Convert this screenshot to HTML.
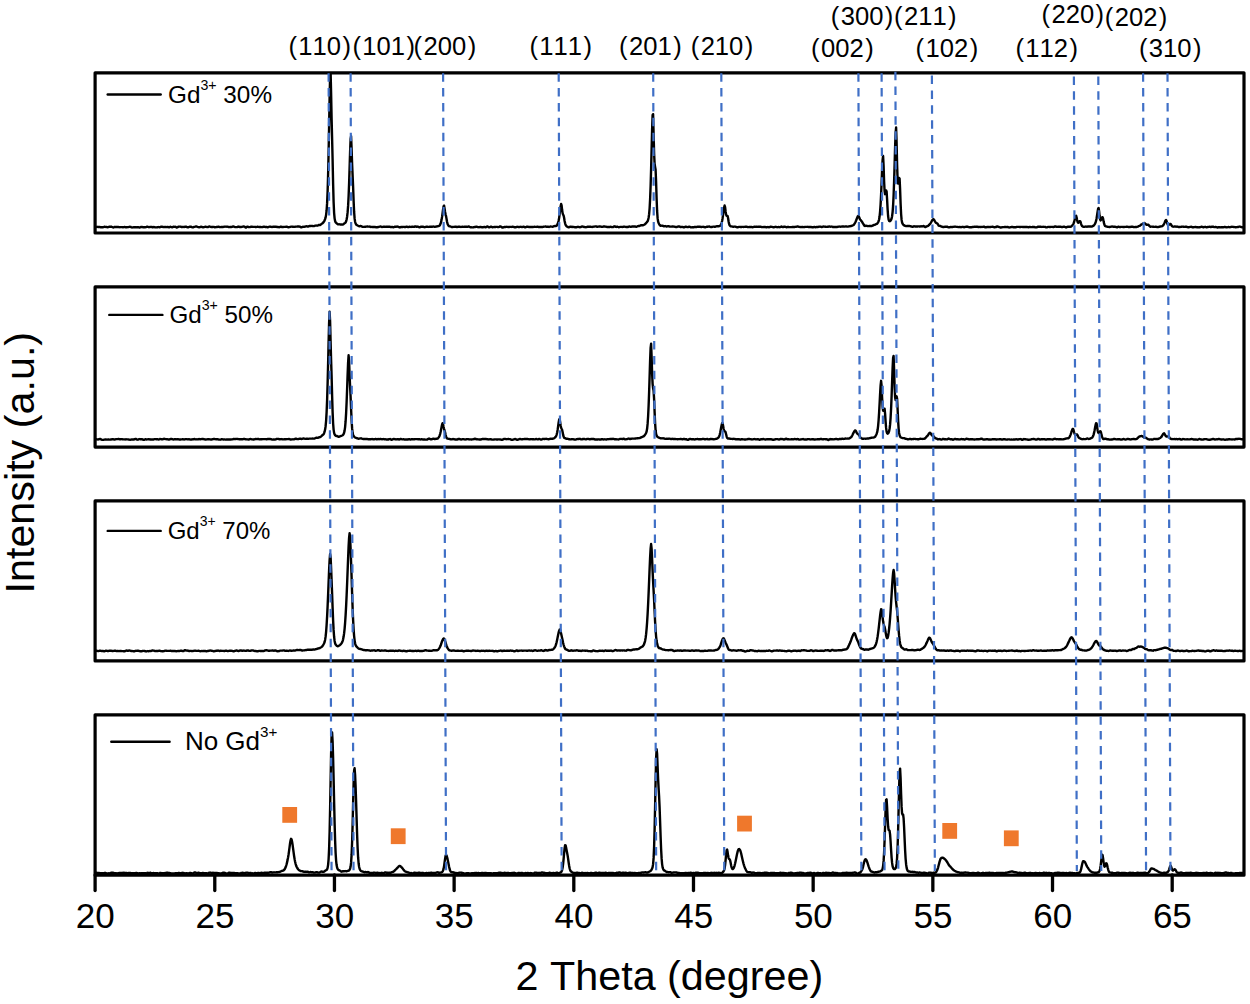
<!DOCTYPE html>
<html><head><meta charset="utf-8"><title>XRD</title>
<style>html,body{margin:0;padding:0;background:#fff;}body{width:1250px;height:1004px;overflow:hidden;font-family:"Liberation Sans",sans-serif;}svg{display:block;}</style></head>
<body>
<svg width="1250" height="1004" viewBox="0 0 1250 1004" font-family="'Liberation Sans', sans-serif" fill="#000" style="font-kerning:none">
<rect width="1250" height="1004" fill="#fff"/>
<defs>
<clipPath id="c0"><rect x="95.1" y="72.8" width="1148.9" height="160.2"/></clipPath>
<clipPath id="c1"><rect x="95.1" y="286.9" width="1148.9" height="160.2"/></clipPath>
<clipPath id="c2"><rect x="95.1" y="500.9" width="1148.9" height="160.0"/></clipPath>
<clipPath id="c3"><rect x="95.1" y="714.8" width="1148.9" height="160.4"/></clipPath>
</defs>
<path clip-path="url(#c0)" d="M95.1 226.90L95.6 227.00L96.1 227.00L96.6 226.90L97.1 226.81L97.6 226.93L98.1 227.04L98.6 227.01L99.1 226.85L99.6 226.83L100.1 227.03L100.6 227.26L101.1 227.39L101.6 227.28L102.1 227.25L102.6 227.23L103.1 227.27L103.6 227.05L104.1 226.87L104.6 226.75L105.1 226.85L105.6 226.93L106.1 226.97L106.6 227.02L107.1 227.13L107.6 227.23L108.1 227.17L108.6 227.02L109.1 226.80L109.6 226.78L110.1 226.67L110.6 226.72L111.1 226.65L111.6 226.77L112.1 226.99L112.6 227.27L113.1 227.49L113.6 227.33L114.1 227.13L114.6 226.88L115.1 226.92L115.6 227.00L116.1 227.07L116.6 227.03L117.1 226.97L117.6 226.89L118.1 226.99L118.6 227.03L119.1 227.20L119.6 227.13L120.1 227.18L120.6 227.10L121.1 227.15L121.6 227.09L122.1 227.17L122.6 227.19L123.1 227.28L123.6 227.17L124.1 227.09L124.6 227.02L125.1 227.16L125.6 227.24L126.1 227.30L126.6 227.20L127.1 227.18L127.6 227.14L128.1 227.14L128.6 227.06L129.1 226.94L129.6 226.81L130.1 226.78L130.6 226.93L131.1 227.18L131.6 227.40L132.1 227.45L132.6 227.42L133.1 227.33L133.6 227.27L134.1 227.28L134.6 227.31L135.1 227.27L135.6 227.18L136.1 227.14L136.6 227.26L137.1 227.32L137.6 227.28L138.1 227.23L138.6 227.28L139.1 227.46L139.6 227.48L140.1 227.39L140.6 227.17L141.1 227.00L141.6 226.91L142.1 226.98L142.6 227.13L143.1 227.25L143.6 227.29L144.1 227.21L144.6 227.19L145.1 227.14L145.6 227.19L146.1 227.07L146.6 226.87L147.1 226.67L147.6 226.71L148.1 226.97L148.6 227.14L149.1 227.18L149.6 227.05L150.1 227.02L150.6 226.90L151.1 226.83L151.6 226.85L152.1 227.14L152.6 227.34L153.1 227.29L153.6 227.03L154.1 227.03L154.6 227.21L155.1 227.42L155.6 227.42L156.1 227.33L156.6 227.34L157.1 227.28L157.6 227.24L158.1 227.05L158.6 227.08L159.1 227.18L159.6 227.32L160.1 227.20L160.6 226.95L161.1 226.68L161.6 226.63L162.1 226.71L162.6 226.85L163.1 226.99L163.6 227.05L164.1 227.09L164.6 227.03L165.1 227.01L165.6 227.06L166.1 227.10L166.6 227.10L167.1 226.93L167.6 226.89L168.1 226.97L168.6 227.21L169.1 227.25L169.6 227.07L170.1 226.85L170.6 226.77L171.1 226.99L171.6 227.19L172.1 227.32L172.6 227.05L173.1 226.83L173.6 226.71L174.1 226.85L174.6 226.88L175.1 226.77L175.6 226.87L176.1 227.08L176.6 227.48L177.1 227.45L177.6 227.22L178.1 226.85L178.6 226.59L179.1 226.62L179.6 226.59L180.1 226.66L180.6 226.62L181.1 226.87L181.6 227.07L182.1 227.11L182.6 226.92L183.1 226.85L183.6 226.94L184.1 226.99L184.6 226.86L185.1 226.70L185.6 226.61L186.1 226.70L186.6 226.89L187.1 227.21L187.6 227.37L188.1 227.39L188.6 227.14L189.1 226.95L189.6 226.74L190.1 226.64L190.6 226.59L191.1 226.72L191.6 227.02L192.1 227.32L192.6 227.42L193.1 227.32L193.6 227.12L194.1 226.95L194.6 226.84L195.1 226.70L195.6 226.54L196.1 226.46L196.6 226.55L197.1 226.74L197.6 226.95L198.1 227.07L198.6 227.19L199.1 227.24L199.6 227.23L200.1 227.04L200.6 226.85L201.1 226.71L201.6 226.85L202.1 227.00L202.6 227.22L203.1 227.25L203.6 227.19L204.1 227.03L204.6 226.83L205.1 226.81L205.6 226.75L206.1 226.83L206.6 226.92L207.1 227.14L207.6 227.17L208.1 227.05L208.6 226.70L209.1 226.54L209.6 226.50L210.1 226.72L210.6 226.87L211.1 226.95L211.6 227.03L212.1 227.05L212.6 227.03L213.1 226.84L213.6 226.83L214.1 226.96L214.6 227.21L215.1 227.26L215.6 227.17L216.1 227.06L216.6 227.01L217.1 226.98L217.6 226.87L218.1 226.75L218.6 226.76L219.1 226.92L219.6 227.14L220.1 227.17L220.6 227.09L221.1 226.99L221.6 226.96L222.1 226.96L222.6 226.94L223.1 226.94L223.6 226.88L224.1 226.76L224.6 226.64L225.1 226.64L225.6 226.64L226.1 226.70L226.6 226.60L227.1 226.65L227.6 226.68L228.1 226.86L228.6 227.00L229.1 227.11L229.6 227.04L230.1 226.94L230.6 226.89L231.1 226.95L231.6 226.96L232.1 226.81L232.6 226.62L233.1 226.47L233.6 226.53L234.1 226.71L234.6 226.95L235.1 227.10L235.6 227.12L236.1 227.14L236.6 227.10L237.1 227.08L237.6 226.89L238.1 226.65L238.6 226.57L239.1 226.74L239.6 226.99L240.1 227.12L240.6 227.03L241.1 226.99L241.6 226.87L242.1 226.84L242.6 226.69L243.1 226.60L243.6 226.47L244.1 226.51L244.6 226.73L245.1 227.19L245.6 227.49L246.1 227.46L246.6 227.08L247.1 226.71L247.6 226.71L248.1 226.91L248.6 227.14L249.1 227.15L249.6 227.11L250.1 227.01L250.6 226.89L251.1 226.74L251.6 226.71L252.1 226.78L252.6 226.89L253.1 226.92L253.6 226.89L254.1 226.84L254.6 226.84L255.1 226.92L255.6 227.10L256.1 227.06L256.6 226.94L257.1 226.78L257.6 226.79L258.1 226.88L258.6 226.90L259.1 226.99L259.6 226.95L260.1 227.00L260.6 227.01L261.1 227.06L261.6 227.15L262.1 227.11L262.6 227.05L263.1 226.88L263.6 226.80L264.1 226.77L264.6 226.79L265.1 226.94L265.6 226.99L266.1 227.01L266.6 226.96L267.1 227.12L267.6 227.26L268.1 227.24L268.6 227.01L269.1 226.77L269.6 226.67L270.1 226.64L270.6 226.71L271.1 226.84L271.6 226.95L272.1 226.96L272.6 226.88L273.1 226.77L273.6 226.77L274.1 226.72L274.6 226.74L275.1 226.69L275.6 226.69L276.1 226.78L276.6 226.92L277.1 227.06L277.6 227.03L278.1 227.05L278.6 227.11L279.1 227.20L279.6 227.10L280.1 226.87L280.6 226.62L281.1 226.62L281.6 226.81L282.1 227.05L282.6 227.13L283.1 227.05L283.6 226.92L284.1 226.84L284.6 226.86L285.1 226.91L285.6 226.88L286.1 226.74L286.6 226.68L287.1 226.78L287.6 227.04L288.1 227.21L288.6 227.27L289.1 227.18L289.6 227.09L290.1 226.94L290.6 226.82L291.1 226.65L291.6 226.65L292.1 226.65L292.6 226.74L293.1 226.73L293.6 226.84L294.1 226.88L294.6 226.87L295.1 226.73L295.6 226.62L296.1 226.64L296.6 226.62L297.1 226.66L297.6 226.52L298.1 226.52L298.6 226.44L299.1 226.52L299.6 226.60L300.1 226.76L300.6 227.10L301.1 227.28L301.6 227.35L302.1 227.04L302.6 226.87L303.1 226.76L303.6 226.84L304.1 226.80L304.6 226.71L305.1 226.58L305.6 226.46L306.1 226.36L306.6 226.31L307.1 226.37L307.6 226.50L308.1 226.51L308.6 226.34L309.1 226.12L309.6 226.02L310.1 226.06L310.6 226.06L311.1 225.95L311.6 225.90L312.1 225.88L312.6 226.02L313.1 226.09L313.6 226.14L314.1 226.03L314.6 225.87L315.1 225.67L315.6 225.58L316.1 225.55L316.6 225.60L317.1 225.68L317.6 225.59L318.1 225.41L318.6 225.04L319.1 225.03L319.6 225.04L320.1 225.04L320.6 224.69L321.1 224.21L321.6 223.89L322.1 223.54L322.6 223.23L323.1 222.65L323.6 222.09L324.1 221.36L324.6 220.41L325.1 219.13L325.6 217.40L326.1 214.86L326.6 210.48L327.1 203.13L327.6 191.56L328.1 174.79L328.6 152.38L329.1 125.60L329.6 98.11L330.1 76.58L330.6 71.53L331.1 92.68L331.6 118.15L332.1 138.28L332.6 159.58L333.1 183.40L333.6 201.78L334.1 212.87L334.6 218.37L335.1 220.96L335.6 222.22L336.1 222.88L336.6 223.25L337.1 223.70L337.6 224.05L338.1 224.38L338.6 224.32L339.1 224.36L339.6 224.32L340.1 224.48L340.6 224.51L341.1 224.55L341.6 224.54L342.1 224.58L342.6 224.60L343.1 224.43L343.6 224.05L344.1 223.59L344.6 223.29L345.1 223.01L345.6 222.48L346.1 221.32L346.6 219.51L347.1 216.73L347.6 212.46L348.1 205.90L348.6 196.29L349.1 183.36L349.6 167.62L350.1 151.50L350.6 138.93L351.1 136.29L351.6 148.79L352.1 163.59L352.6 174.99L353.1 186.66L353.6 200.58L354.1 211.68L354.6 218.42L355.1 221.79L355.6 223.51L356.1 224.40L356.6 224.96L357.1 225.20L357.6 225.46L358.1 225.77L358.6 226.01L359.1 226.19L359.6 226.18L360.1 226.14L360.6 226.01L361.1 226.09L361.6 226.32L362.1 226.67L362.6 226.83L363.1 226.89L363.6 226.88L364.1 226.86L364.6 226.81L365.1 226.74L365.6 226.71L366.1 226.67L366.6 226.58L367.1 226.47L367.6 226.51L368.1 226.59L368.6 226.64L369.1 226.56L369.6 226.61L370.1 226.74L370.6 226.93L371.1 226.94L371.6 226.91L372.1 226.90L372.6 227.03L373.1 227.04L373.6 227.04L374.1 226.91L374.6 226.93L375.1 226.98L375.6 227.09L376.1 227.25L376.6 227.29L377.1 227.29L377.6 227.11L378.1 226.99L378.6 226.96L379.1 226.86L379.6 226.71L380.1 226.52L380.6 226.53L381.1 226.69L381.6 226.86L382.1 227.00L382.6 226.93L383.1 226.84L383.6 226.69L384.1 226.67L384.6 226.72L385.1 226.81L385.6 226.87L386.1 226.79L386.6 226.75L387.1 226.69L387.6 226.79L388.1 226.76L388.6 226.79L389.1 226.73L389.6 226.73L390.1 226.86L390.6 226.98L391.1 227.17L391.6 227.06L392.1 227.04L392.6 227.03L393.1 227.23L393.6 227.21L394.1 227.03L394.6 226.80L395.1 226.77L395.6 226.79L396.1 226.72L396.6 226.58L397.1 226.54L397.6 226.61L398.1 226.74L398.6 226.94L399.1 227.23L399.6 227.43L400.1 227.38L400.6 227.13L401.1 226.97L401.6 226.97L402.1 227.02L402.6 227.03L403.1 226.93L403.6 226.86L404.1 226.88L404.6 227.03L405.1 227.10L405.6 227.02L406.1 226.79L406.6 226.74L407.1 226.80L407.6 227.02L408.1 227.09L408.6 227.03L409.1 226.86L409.6 226.74L410.1 226.85L410.6 226.90L411.1 226.93L411.6 226.77L412.1 226.74L412.6 226.72L413.1 226.82L413.6 226.87L414.1 226.81L414.6 226.56L415.1 226.33L415.6 226.35L416.1 226.62L416.6 226.79L417.1 226.73L417.6 226.57L418.1 226.69L418.6 227.00L419.1 227.29L419.6 227.31L420.1 227.12L420.6 226.90L421.1 226.72L421.6 226.67L422.1 226.68L422.6 226.71L423.1 226.79L423.6 226.90L424.1 227.07L424.6 227.20L425.1 227.17L425.6 226.98L426.1 226.75L426.6 226.65L427.1 226.68L427.6 226.80L428.1 226.84L428.6 226.93L429.1 226.86L429.6 226.80L430.1 226.75L430.6 226.73L431.1 226.87L431.6 226.79L432.1 226.82L432.6 226.66L433.1 226.63L433.6 226.55L434.1 226.70L434.6 226.81L435.1 226.84L435.6 226.68L436.1 226.54L436.6 226.47L437.1 226.35L437.6 226.26L438.1 226.10L438.6 226.07L439.1 225.90L439.6 225.51L440.1 224.76L440.6 223.54L441.1 221.90L441.6 219.59L442.1 216.65L442.6 212.97L443.1 209.20L443.6 206.20L444.1 205.61L444.6 208.60L445.1 212.04L445.6 214.43L446.1 216.34L446.6 219.18L447.1 222.04L447.6 223.99L448.1 225.12L448.6 225.79L449.1 226.20L449.6 226.34L450.1 226.39L450.6 226.44L451.1 226.74L451.6 226.99L452.1 227.13L452.6 227.02L453.1 226.86L453.6 226.86L454.1 226.88L454.6 226.92L455.1 226.73L455.6 226.71L456.1 226.79L456.6 227.02L457.1 227.04L457.6 226.91L458.1 226.76L458.6 226.68L459.1 226.71L459.6 226.73L460.1 226.87L460.6 226.86L461.1 226.95L461.6 226.82L462.1 226.91L462.6 226.78L463.1 226.90L463.6 226.82L464.1 226.91L464.6 226.77L465.1 226.74L465.6 226.73L466.1 226.78L466.6 226.79L467.1 226.82L467.6 226.73L468.1 226.61L468.6 226.48L469.1 226.64L469.6 226.91L470.1 227.09L470.6 227.21L471.1 227.26L471.6 227.41L472.1 227.38L472.6 227.36L473.1 227.29L473.6 227.20L474.1 227.11L474.6 227.05L475.1 227.01L475.6 226.86L476.1 226.69L476.6 226.69L477.1 226.86L477.6 227.03L478.1 227.11L478.6 227.18L479.1 227.19L479.6 227.17L480.1 227.02L480.6 227.00L481.1 227.06L481.6 227.24L482.1 227.29L482.6 227.31L483.1 227.22L483.6 227.16L484.1 227.02L484.6 227.01L485.1 227.11L485.6 227.26L486.1 227.12L486.6 226.81L487.1 226.50L487.6 226.54L488.1 226.80L488.6 227.14L489.1 227.37L489.6 227.29L490.1 227.05L490.6 226.77L491.1 226.68L491.6 226.88L492.1 227.10L492.6 227.28L493.1 227.18L493.6 227.10L494.1 227.00L494.6 227.00L495.1 226.96L495.6 226.94L496.1 226.87L496.6 226.86L497.1 226.90L497.6 227.01L498.1 227.09L498.6 227.10L499.1 226.95L499.6 226.63L500.1 226.38L500.6 226.42L501.1 226.78L501.6 227.18L502.1 227.45L502.6 227.51L503.1 227.48L503.6 227.25L504.1 227.10L504.6 226.93L505.1 227.00L505.6 226.98L506.1 226.93L506.6 226.81L507.1 226.83L507.6 226.96L508.1 227.10L508.6 227.06L509.1 227.02L509.6 226.88L510.1 226.88L510.6 226.83L511.1 226.93L511.6 226.92L512.1 226.89L512.6 226.76L513.1 226.76L513.6 226.95L514.1 227.16L514.6 227.28L515.1 227.23L515.6 227.22L516.1 227.09L516.6 226.99L517.1 226.79L517.6 226.84L518.1 226.92L518.6 227.16L519.1 227.08L519.6 226.96L520.1 226.78L520.6 226.83L521.1 226.92L521.6 226.96L522.1 227.00L522.6 226.94L523.1 226.86L523.6 226.71L524.1 226.83L524.6 227.06L525.1 227.34L525.6 227.25L526.1 227.05L526.6 226.79L527.1 226.70L527.6 226.73L528.1 226.80L528.6 226.97L529.1 226.97L529.6 227.01L530.1 226.93L530.6 227.03L531.1 227.02L531.6 227.02L532.1 226.95L532.6 226.92L533.1 226.96L533.6 226.88L534.1 226.84L534.6 226.76L535.1 226.83L535.6 226.88L536.1 226.93L536.6 226.84L537.1 226.74L537.6 226.74L538.1 226.92L538.6 227.02L539.1 227.03L539.6 226.92L540.1 226.95L540.6 226.99L541.1 227.02L541.6 226.96L542.1 226.95L542.6 226.95L543.1 226.88L543.6 226.73L544.1 226.63L544.6 226.59L545.1 226.57L545.6 226.53L546.1 226.59L546.6 226.72L547.1 226.74L547.6 226.72L548.1 226.75L548.6 226.92L549.1 226.96L549.6 226.76L550.1 226.57L550.6 226.50L551.1 226.58L551.6 226.62L552.1 226.65L552.6 226.72L553.1 226.62L553.6 226.43L554.1 226.17L554.6 226.06L555.1 226.02L555.6 225.99L556.1 225.98L556.6 225.73L557.1 225.14L557.6 224.11L558.1 222.72L558.6 220.82L559.1 218.12L559.6 214.51L560.1 210.33L560.6 206.37L561.1 203.95L561.6 205.47L562.1 209.78L562.6 213.10L563.1 214.63L563.6 215.52L564.1 217.81L564.6 220.96L565.1 223.33L565.6 224.86L566.1 225.69L566.6 226.30L567.1 226.57L567.6 226.90L568.1 227.13L568.6 227.34L569.1 227.25L569.6 227.04L570.1 226.71L570.6 226.58L571.1 226.68L571.6 226.84L572.1 227.00L572.6 226.82L573.1 226.83L573.6 226.84L574.1 227.06L574.6 227.18L575.1 227.20L575.6 227.27L576.1 227.21L576.6 227.19L577.1 226.99L577.6 226.86L578.1 226.82L578.6 226.89L579.1 227.09L579.6 227.20L580.1 227.25L580.6 227.04L581.1 226.83L581.6 226.61L582.1 226.52L582.6 226.54L583.1 226.68L583.6 226.88L584.1 226.97L584.6 227.03L585.1 227.09L585.6 227.20L586.1 227.18L586.6 227.08L587.1 226.88L587.6 226.78L588.1 226.70L588.6 226.72L589.1 226.71L589.6 226.75L590.1 226.78L590.6 226.80L591.1 226.87L591.6 226.92L592.1 226.97L592.6 226.88L593.1 226.77L593.6 226.67L594.1 226.63L594.6 226.59L595.1 226.45L595.6 226.33L596.1 226.36L596.6 226.58L597.1 226.73L597.6 226.72L598.1 226.63L598.6 226.59L599.1 226.49L599.6 226.49L600.1 226.43L600.6 226.57L601.1 226.62L601.6 226.83L602.1 226.89L602.6 226.84L603.1 226.66L603.6 226.49L604.1 226.52L604.6 226.54L605.1 226.66L605.6 226.66L606.1 226.78L606.6 226.90L607.1 226.99L607.6 226.96L608.1 226.92L608.6 226.98L609.1 227.05L609.6 227.01L610.1 226.86L610.6 226.82L611.1 226.86L611.6 226.99L612.1 227.09L612.6 227.11L613.1 227.04L613.6 226.70L614.1 226.43L614.6 226.31L615.1 226.49L615.6 226.83L616.1 226.95L616.6 226.91L617.1 226.70L617.6 226.77L618.1 226.99L618.6 227.19L619.1 227.20L619.6 227.07L620.1 226.93L620.6 226.88L621.1 226.87L621.6 226.91L622.1 226.94L622.6 226.93L623.1 226.85L623.6 226.70L624.1 226.64L624.6 226.66L625.1 226.80L625.6 226.92L626.1 227.01L626.6 226.97L627.1 227.00L627.6 227.01L628.1 226.98L628.6 226.73L629.1 226.54L629.6 226.57L630.1 226.73L630.6 226.89L631.1 226.82L631.6 226.67L632.1 226.49L632.6 226.37L633.1 226.48L633.6 226.51L634.1 226.57L634.6 226.43L635.1 226.51L635.6 226.64L636.1 226.78L636.6 226.74L637.1 226.52L637.6 226.28L638.1 226.14L638.6 226.04L639.1 226.03L639.6 225.84L640.1 225.71L640.6 225.43L641.1 225.26L641.6 225.09L642.1 225.14L642.6 225.21L643.1 225.21L643.6 225.02L644.1 224.72L644.6 224.44L645.1 224.14L645.6 223.71L646.1 223.09L646.6 222.47L647.1 221.92L647.6 221.20L648.1 219.92L648.6 217.71L649.1 214.22L649.6 208.48L650.1 199.43L650.6 186.22L651.1 169.07L651.6 149.19L652.1 129.50L652.6 115.10L653.1 114.13L653.6 133.47L654.1 153.23L654.6 163.69L655.1 166.83L655.6 169.75L656.1 181.93L656.6 198.32L657.1 210.94L657.6 218.14L658.1 221.47L658.6 223.05L659.1 224.03L659.6 224.83L660.1 225.38L660.6 225.71L661.1 225.69L661.6 225.67L662.1 225.58L662.6 225.78L663.1 225.91L663.6 226.19L664.1 226.16L664.6 226.18L665.1 226.06L665.6 226.19L666.1 226.35L666.6 226.53L667.1 226.44L667.6 226.29L668.1 226.19L668.6 226.27L669.1 226.40L669.6 226.51L670.1 226.63L670.6 226.67L671.1 226.67L671.6 226.57L672.1 226.49L672.6 226.48L673.1 226.55L673.6 226.65L674.1 226.67L674.6 226.68L675.1 226.80L675.6 227.00L676.1 227.09L676.6 227.07L677.1 226.87L677.6 226.70L678.1 226.46L678.6 226.37L679.1 226.36L679.6 226.55L680.1 226.83L680.6 227.04L681.1 227.06L681.6 226.95L682.1 226.83L682.6 226.92L683.1 227.12L683.6 227.39L684.1 227.38L684.6 227.17L685.1 226.87L685.6 226.73L686.1 226.77L686.6 226.86L687.1 227.02L687.6 227.10L688.1 227.09L688.6 226.92L689.1 226.74L689.6 226.75L690.1 226.96L690.6 227.24L691.1 227.37L691.6 227.33L692.1 227.23L692.6 227.23L693.1 227.27L693.6 227.21L694.1 227.09L694.6 226.93L695.1 226.95L695.6 226.95L696.1 226.98L696.6 226.97L697.1 226.88L697.6 226.78L698.1 226.69L698.6 226.79L699.1 226.82L699.6 226.81L700.1 226.76L700.6 226.88L701.1 227.00L701.6 227.03L702.1 226.93L702.6 226.84L703.1 226.80L703.6 226.84L704.1 227.01L704.6 227.24L705.1 227.42L705.6 227.22L706.1 226.95L706.6 226.70L707.1 226.74L707.6 226.80L708.1 226.67L708.6 226.56L709.1 226.45L709.6 226.63L710.1 226.78L710.6 226.98L711.1 227.04L711.6 227.01L712.1 226.95L712.6 226.82L713.1 226.68L713.6 226.61L714.1 226.66L714.6 226.76L715.1 226.75L715.6 226.61L716.1 226.44L716.6 226.30L717.1 226.20L717.6 226.25L718.1 226.22L718.6 226.30L719.1 226.17L719.6 226.09L720.1 225.77L720.6 225.29L721.1 224.40L721.6 223.06L722.1 220.99L722.6 218.20L723.1 214.68L723.6 210.89L724.1 207.50L724.6 205.51L725.1 207.21L725.6 211.41L726.1 214.61L726.6 215.79L727.1 215.82L727.6 216.06L728.1 218.30L728.6 221.48L729.1 223.90L729.6 225.30L730.1 225.89L730.6 226.26L731.1 226.34L731.6 226.44L732.1 226.54L732.6 226.70L733.1 226.82L733.6 226.72L734.1 226.64L734.6 226.56L735.1 226.65L735.6 226.74L736.1 226.94L736.6 227.15L737.1 227.25L737.6 227.24L738.1 227.08L738.6 227.05L739.1 226.92L739.6 226.90L740.1 226.87L740.6 226.97L741.1 227.01L741.6 226.98L742.1 226.89L742.6 226.89L743.1 226.91L743.6 226.96L744.1 226.90L744.6 226.85L745.1 226.78L745.6 226.70L746.1 226.70L746.6 226.73L747.1 226.88L747.6 227.03L748.1 227.08L748.6 227.11L749.1 227.04L749.6 227.04L750.1 226.97L750.6 226.96L751.1 226.97L751.6 227.05L752.1 227.13L752.6 227.19L753.1 227.12L753.6 226.93L754.1 226.77L754.6 226.77L755.1 226.86L755.6 226.78L756.1 226.65L756.6 226.66L757.1 226.84L757.6 226.88L758.1 226.75L758.6 226.61L759.1 226.69L759.6 226.77L760.1 226.81L760.6 226.79L761.1 226.87L761.6 227.02L762.1 227.10L762.6 227.12L763.1 227.05L763.6 227.09L764.1 227.03L764.6 227.02L765.1 226.97L765.6 227.12L766.1 227.21L766.6 227.27L767.1 227.14L767.6 227.07L768.1 227.04L768.6 227.18L769.1 227.21L769.6 227.14L770.1 226.92L770.6 226.78L771.1 226.75L771.6 226.82L772.1 226.93L772.6 227.07L773.1 227.21L773.6 227.26L774.1 227.19L774.6 227.02L775.1 226.83L775.6 226.80L776.1 226.91L776.6 227.09L777.1 227.20L777.6 227.16L778.1 227.08L778.6 227.00L779.1 227.07L779.6 227.22L780.1 227.17L780.6 226.96L781.1 226.60L781.6 226.55L782.1 226.75L782.6 227.06L783.1 227.14L783.6 226.93L784.1 226.69L784.6 226.62L785.1 226.72L785.6 226.96L786.1 227.13L786.6 227.26L787.1 227.17L787.6 227.03L788.1 226.98L788.6 227.04L789.1 227.13L789.6 227.16L790.1 227.14L790.6 227.14L791.1 227.10L791.6 227.09L792.1 227.05L792.6 227.00L793.1 226.98L793.6 226.97L794.1 227.02L794.6 227.00L795.1 226.90L795.6 226.82L796.1 226.69L796.6 226.68L797.1 226.56L797.6 226.55L798.1 226.55L798.6 226.72L799.1 226.84L799.6 226.93L800.1 226.93L800.6 227.08L801.1 227.08L801.6 227.06L802.1 226.92L802.6 226.90L803.1 227.03L803.6 227.11L804.1 227.14L804.6 227.04L805.1 226.88L805.6 226.85L806.1 226.85L806.6 226.91L807.1 226.84L807.6 226.82L808.1 226.88L808.6 226.98L809.1 226.99L809.6 226.96L810.1 226.90L810.6 226.93L811.1 227.02L811.6 227.14L812.1 227.27L812.6 227.30L813.1 227.27L813.6 227.11L814.1 226.99L814.6 226.99L815.1 227.14L815.6 227.22L816.1 227.14L816.6 227.04L817.1 227.02L817.6 227.05L818.1 226.96L818.6 226.80L819.1 226.72L819.6 226.67L820.1 226.66L820.6 226.70L821.1 226.87L821.6 227.01L822.1 226.95L822.6 226.72L823.1 226.59L823.6 226.55L824.1 226.65L824.6 226.64L825.1 226.74L825.6 226.77L826.1 226.92L826.6 226.90L827.1 226.86L827.6 226.79L828.1 226.71L828.6 226.60L829.1 226.49L829.6 226.53L830.1 226.68L830.6 226.74L831.1 226.68L831.6 226.56L832.1 226.69L832.6 226.82L833.1 227.08L833.6 227.05L834.1 227.12L834.6 227.01L835.1 226.97L835.6 226.93L836.1 226.96L836.6 227.05L837.1 227.00L837.6 226.91L838.1 226.75L838.6 226.67L839.1 226.56L839.6 226.59L840.1 226.67L840.6 226.73L841.1 226.66L841.6 226.57L842.1 226.57L842.6 226.55L843.1 226.52L843.6 226.52L844.1 226.60L844.6 226.57L845.1 226.49L845.6 226.38L846.1 226.43L846.6 226.49L847.1 226.60L847.6 226.62L848.1 226.58L848.6 226.44L849.1 226.33L849.6 226.29L850.1 226.25L850.6 226.18L851.1 226.01L851.6 225.84L852.1 225.64L852.6 225.51L853.1 225.28L853.6 224.95L854.1 224.36L854.6 223.64L855.1 222.74L855.6 221.69L856.1 220.50L856.6 219.23L857.1 217.91L857.6 216.73L858.1 215.90L858.6 216.09L859.1 217.10L859.6 218.43L860.1 219.34L860.6 220.08L861.1 220.65L861.6 221.20L862.1 221.97L862.6 222.81L863.1 223.61L863.6 224.41L864.1 225.28L864.6 225.89L865.1 225.99L865.6 225.75L866.1 225.66L866.6 225.80L867.1 225.98L867.6 226.04L868.1 226.08L868.6 226.10L869.1 226.04L869.6 225.98L870.1 225.90L870.6 225.97L871.1 225.95L871.6 225.99L872.1 225.85L872.6 225.70L873.1 225.43L873.6 225.16L874.1 224.93L874.6 224.78L875.1 224.57L875.6 224.33L876.1 224.16L876.6 223.98L877.1 223.65L877.6 223.05L878.1 222.35L878.6 221.25L879.1 219.48L879.6 216.31L880.1 211.40L880.6 204.12L881.1 194.31L881.6 182.34L882.1 169.80L882.6 159.78L883.1 155.94L883.6 166.03L884.1 181.29L884.6 191.38L885.1 194.17L885.6 192.55L886.1 190.36L886.6 191.42L887.1 199.53L887.6 209.14L888.1 216.03L888.6 219.58L889.1 220.96L889.6 221.20L890.1 221.05L890.6 220.57L891.1 219.85L891.6 218.53L892.1 216.20L892.6 212.11L893.1 205.45L893.6 195.45L894.1 181.65L894.6 164.78L895.1 147.03L895.6 132.86L896.1 127.53L896.6 142.32L897.1 164.63L897.6 179.47L898.1 183.60L898.6 181.25L899.1 177.84L899.6 178.62L900.1 189.42L900.6 203.49L901.1 213.98L901.6 219.89L902.1 222.47L902.6 223.71L903.1 224.48L903.6 225.08L904.1 225.42L904.6 225.62L905.1 225.81L905.6 225.99L906.1 226.07L906.6 226.02L907.1 225.95L907.6 225.95L908.1 225.96L908.6 225.94L909.1 225.97L909.6 226.05L910.1 226.19L910.6 226.20L911.1 226.31L911.6 226.54L912.1 226.80L912.6 226.80L913.1 226.60L913.6 226.38L914.1 226.31L914.6 226.37L915.1 226.44L915.6 226.48L916.1 226.43L916.6 226.44L917.1 226.46L917.6 226.49L918.1 226.42L918.6 226.34L919.1 226.35L919.6 226.45L920.1 226.44L920.6 226.37L921.1 226.26L921.6 226.38L922.1 226.44L922.6 226.35L923.1 226.11L923.6 225.98L924.1 226.24L924.6 226.72L925.1 227.02L925.6 226.97L926.1 226.64L926.6 226.36L927.1 226.23L927.6 226.04L928.1 225.90L928.6 225.44L929.1 225.00L929.6 224.36L930.1 223.85L930.6 223.09L931.1 222.27L931.6 221.33L932.1 220.50L932.6 219.82L933.1 219.28L933.6 219.24L934.1 219.82L934.6 220.76L935.1 221.68L935.6 222.45L936.1 222.92L936.6 223.08L937.1 223.26L937.6 223.82L938.1 224.70L938.6 225.48L939.1 225.86L939.6 225.90L940.1 225.94L940.6 226.16L941.1 226.42L941.6 226.58L942.1 226.72L942.6 226.85L943.1 227.01L943.6 226.99L944.1 226.95L944.6 226.82L945.1 226.80L945.6 226.81L946.1 226.76L946.6 226.70L947.1 226.68L947.6 226.90L948.1 227.21L948.6 227.38L949.1 227.40L949.6 227.26L950.1 227.14L950.6 227.04L951.1 227.06L951.6 227.11L952.1 227.04L952.6 226.98L953.1 226.90L953.6 226.91L954.1 226.78L954.6 226.66L955.1 226.59L955.6 226.70L956.1 226.85L956.6 226.90L957.1 226.86L957.6 226.83L958.1 226.97L958.6 227.08L959.1 227.12L959.6 227.00L960.1 227.03L960.6 227.11L961.1 227.20L961.6 227.07L962.1 226.90L962.6 226.82L963.1 226.94L963.6 227.15L964.1 227.19L964.6 227.13L965.1 226.91L965.6 226.91L966.1 226.77L966.6 226.76L967.1 226.57L967.6 226.72L968.1 226.84L968.6 227.14L969.1 227.17L969.6 227.28L970.1 227.21L970.6 227.33L971.1 227.23L971.6 227.20L972.1 227.01L972.6 226.94L973.1 226.94L973.6 226.88L974.1 226.81L974.6 226.72L975.1 226.76L975.6 226.84L976.1 226.78L976.6 226.78L977.1 226.70L977.6 226.93L978.1 227.01L978.6 227.13L979.1 226.96L979.6 226.88L980.1 226.88L980.6 226.97L981.1 226.98L981.6 226.92L982.1 226.92L982.6 226.93L983.1 226.87L983.6 226.68L984.1 226.70L984.6 226.91L985.1 227.27L985.6 227.40L986.1 227.29L986.6 227.13L987.1 226.99L987.6 226.97L988.1 226.98L988.6 226.99L989.1 227.09L989.6 227.06L990.1 227.11L990.6 226.99L991.1 226.90L991.6 226.85L992.1 226.81L992.6 226.81L993.1 226.87L993.6 226.98L994.1 227.22L994.6 227.20L995.1 227.23L995.6 227.05L996.1 226.95L996.6 226.59L997.1 226.46L997.6 226.45L998.1 226.74L998.6 226.91L999.1 227.01L999.6 227.21L1000.1 227.39L1000.6 227.58L1001.1 227.45L1001.6 227.38L1002.1 227.25L1002.6 227.18L1003.1 227.08L1003.6 227.08L1004.1 227.11L1004.6 227.04L1005.1 226.85L1005.6 226.84L1006.1 226.97L1006.6 227.08L1007.1 227.00L1007.6 226.91L1008.1 227.09L1008.6 227.29L1009.1 227.50L1009.6 227.40L1010.1 227.36L1010.6 227.17L1011.1 227.09L1011.6 226.92L1012.1 226.90L1012.6 227.01L1013.1 227.18L1013.6 227.28L1014.1 227.25L1014.6 227.29L1015.1 227.31L1015.6 227.30L1016.1 227.14L1016.6 227.01L1017.1 226.90L1017.6 226.88L1018.1 226.86L1018.6 226.86L1019.1 226.90L1019.6 227.01L1020.1 227.06L1020.6 227.04L1021.1 226.91L1021.6 226.88L1022.1 226.91L1022.6 226.94L1023.1 227.01L1023.6 227.03L1024.1 227.04L1024.6 226.96L1025.1 227.00L1025.6 227.03L1026.1 227.04L1026.6 226.88L1027.1 226.91L1027.6 227.05L1028.1 227.27L1028.6 227.21L1029.1 227.03L1029.6 226.92L1030.1 227.03L1030.6 227.16L1031.1 227.14L1031.6 227.12L1032.1 227.07L1032.6 227.06L1033.1 226.89L1033.6 226.86L1034.1 226.97L1034.6 227.12L1035.1 227.27L1035.6 227.34L1036.1 227.40L1036.6 227.36L1037.1 227.15L1037.6 226.93L1038.1 226.76L1038.6 226.75L1039.1 226.77L1039.6 226.72L1040.1 226.63L1040.6 226.69L1041.1 226.81L1041.6 226.93L1042.1 226.86L1042.6 226.84L1043.1 226.81L1043.6 226.88L1044.1 226.83L1044.6 226.85L1045.1 226.91L1045.6 227.14L1046.1 227.33L1046.6 227.37L1047.1 227.26L1047.6 227.05L1048.1 226.88L1048.6 226.86L1049.1 226.90L1049.6 226.98L1050.1 226.93L1050.6 226.93L1051.1 226.88L1051.6 226.86L1052.1 226.85L1052.6 226.87L1053.1 226.98L1053.6 227.00L1054.1 226.90L1054.6 226.66L1055.1 226.44L1055.6 226.47L1056.1 226.62L1056.6 226.88L1057.1 226.90L1057.6 226.85L1058.1 226.69L1058.6 226.72L1059.1 226.72L1059.6 226.80L1060.1 226.73L1060.6 226.80L1061.1 226.86L1061.6 226.97L1062.1 226.99L1062.6 226.96L1063.1 226.91L1063.6 226.79L1064.1 226.75L1064.6 226.76L1065.1 226.98L1065.6 227.25L1066.1 227.43L1066.6 227.29L1067.1 226.95L1067.6 226.72L1068.1 226.70L1068.6 226.75L1069.1 226.73L1069.6 226.66L1070.1 226.73L1070.6 226.74L1071.1 226.56L1071.6 226.09L1072.1 225.53L1072.6 225.02L1073.1 224.42L1073.6 223.45L1074.1 221.96L1074.6 219.94L1075.1 217.92L1075.6 216.28L1076.1 215.72L1076.6 217.32L1077.1 219.96L1077.6 221.85L1078.1 222.75L1078.6 222.58L1079.1 221.97L1079.6 221.26L1080.1 221.10L1080.6 222.14L1081.1 223.83L1081.6 225.27L1082.1 226.14L1082.6 226.49L1083.1 226.61L1083.6 226.74L1084.1 226.87L1084.6 226.83L1085.1 226.66L1085.6 226.55L1086.1 226.57L1086.6 226.72L1087.1 226.69L1087.6 226.66L1088.1 226.43L1088.6 226.47L1089.1 226.44L1089.6 226.48L1090.1 226.38L1090.6 226.49L1091.1 226.62L1091.6 226.66L1092.1 226.40L1092.6 226.15L1093.1 225.87L1093.6 225.59L1094.1 225.07L1094.6 224.47L1095.1 223.61L1095.6 222.47L1096.1 220.66L1096.6 218.19L1097.1 214.98L1097.6 211.60L1098.1 208.83L1098.6 207.95L1099.1 211.16L1099.6 216.05L1100.1 219.36L1100.6 220.42L1101.1 219.72L1101.6 218.46L1102.1 217.37L1102.6 217.15L1103.1 218.69L1103.6 221.37L1104.1 223.68L1104.6 225.18L1105.1 226.02L1105.6 226.31L1106.1 226.40L1106.6 226.51L1107.1 226.67L1107.6 226.80L1108.1 226.83L1108.6 226.93L1109.1 226.99L1109.6 227.01L1110.1 226.86L1110.6 226.83L1111.1 226.65L1111.6 226.58L1112.1 226.44L1112.6 226.57L1113.1 226.71L1113.6 226.78L1114.1 226.78L1114.6 226.79L1115.1 226.80L1115.6 226.87L1116.1 227.02L1116.6 227.26L1117.1 227.26L1117.6 227.07L1118.1 226.79L1118.6 226.74L1119.1 226.90L1119.6 227.08L1120.1 227.15L1120.6 227.03L1121.1 226.94L1121.6 226.83L1122.1 226.86L1122.6 226.91L1123.1 227.02L1123.6 227.05L1124.1 226.97L1124.6 226.84L1125.1 226.85L1125.6 226.84L1126.1 226.92L1126.6 226.76L1127.1 226.81L1127.6 226.81L1128.1 226.96L1128.6 226.98L1129.1 227.04L1129.6 227.06L1130.1 226.96L1130.6 226.87L1131.1 226.78L1131.6 226.79L1132.1 226.75L1132.6 226.79L1133.1 226.88L1133.6 227.04L1134.1 227.08L1134.6 227.08L1135.1 226.98L1135.6 226.97L1136.1 226.94L1136.6 226.94L1137.1 226.88L1137.6 226.72L1138.1 226.53L1138.6 226.20L1139.1 226.00L1139.6 225.77L1140.1 225.56L1140.6 225.13L1141.1 224.71L1141.6 224.28L1142.1 224.09L1142.6 223.86L1143.1 223.63L1143.6 223.25L1144.1 222.95L1144.6 223.10L1145.1 223.50L1145.6 224.07L1146.1 224.44L1146.6 224.82L1147.1 224.89L1147.6 224.80L1148.1 224.70L1148.6 224.91L1149.1 225.49L1149.6 226.19L1150.1 226.60L1150.6 226.74L1151.1 226.67L1151.6 226.65L1152.1 226.67L1152.6 226.68L1153.1 226.73L1153.6 226.79L1154.1 226.90L1154.6 226.90L1155.1 226.86L1155.6 226.77L1156.1 226.81L1156.6 226.87L1157.1 227.05L1157.6 227.08L1158.1 227.13L1158.6 226.94L1159.1 226.81L1159.6 226.58L1160.1 226.51L1160.6 226.46L1161.1 226.41L1161.6 226.30L1162.1 226.09L1162.6 225.86L1163.1 225.43L1163.6 224.78L1164.1 223.81L1164.6 222.63L1165.1 221.37L1165.6 220.36L1166.1 219.97L1166.6 220.99L1167.1 222.90L1167.6 224.36L1168.1 224.96L1168.6 224.92L1169.1 224.63L1169.6 224.26L1170.1 224.03L1170.6 223.93L1171.1 224.73L1171.6 225.49L1172.1 226.24L1172.6 226.47L1173.1 226.71L1173.6 226.66L1174.1 226.58L1174.6 226.47L1175.1 226.51L1175.6 226.65L1176.1 226.69L1176.6 226.63L1177.1 226.55L1177.6 226.69L1178.1 226.95L1178.6 227.07L1179.1 227.06L1179.6 226.88L1180.1 226.94L1180.6 226.91L1181.1 226.89L1181.6 226.71L1182.1 226.67L1182.6 226.67L1183.1 226.74L1183.6 226.74L1184.1 226.89L1184.6 226.87L1185.1 226.87L1185.6 226.67L1186.1 226.72L1186.6 226.76L1187.1 227.01L1187.6 227.18L1188.1 227.30L1188.6 227.26L1189.1 227.15L1189.6 227.08L1190.1 226.94L1190.6 226.84L1191.1 226.77L1191.6 226.90L1192.1 227.11L1192.6 227.31L1193.1 227.28L1193.6 227.24L1194.1 227.17L1194.6 227.15L1195.1 227.04L1195.6 227.01L1196.1 227.06L1196.6 227.22L1197.1 227.24L1197.6 227.32L1198.1 227.31L1198.6 227.40L1199.1 227.28L1199.6 227.23L1200.1 227.10L1200.6 227.02L1201.1 226.90L1201.6 226.76L1202.1 226.84L1202.6 226.96L1203.1 227.19L1203.6 227.23L1204.1 227.09L1204.6 226.96L1205.1 226.80L1205.6 226.97L1206.1 227.11L1206.6 227.28L1207.1 227.23L1207.6 227.02L1208.1 226.96L1208.6 226.88L1209.1 226.86L1209.6 226.79L1210.1 226.83L1210.6 227.01L1211.1 226.99L1211.6 226.91L1212.1 226.64L1212.6 226.59L1213.1 226.65L1213.6 226.93L1214.1 227.10L1214.6 227.12L1215.1 227.07L1215.6 227.04L1216.1 227.07L1216.6 227.16L1217.1 227.37L1217.6 227.52L1218.1 227.43L1218.6 227.20L1219.1 227.10L1219.6 227.28L1220.1 227.42L1220.6 227.42L1221.1 227.28L1221.6 227.23L1222.1 227.32L1222.6 227.31L1223.1 227.27L1223.6 227.09L1224.1 227.05L1224.6 226.98L1225.1 226.98L1225.6 227.08L1226.1 227.22L1226.6 227.39L1227.1 227.31L1227.6 227.20L1228.1 227.04L1228.6 227.04L1229.1 227.08L1229.6 227.20L1230.1 227.19L1230.6 227.10L1231.1 226.91L1231.6 226.82L1232.1 226.82L1232.6 226.84L1233.1 226.93L1233.6 226.98L1234.1 227.02L1234.6 227.07L1235.1 227.15L1235.6 227.26L1236.1 227.24L1236.6 227.18L1237.1 227.10L1237.6 227.04L1238.1 226.98L1238.6 226.85L1239.1 226.71L1239.6 226.56L1240.1 226.65L1240.6 226.81L1241.1 227.01L1241.6 227.13L1242.1 227.29L1242.6 227.38L1243.1 227.29L1243.6 227.12" fill="none" stroke="#000" stroke-width="2.4" stroke-linejoin="round" stroke-linecap="round"/>
<path clip-path="url(#c1)" d="M95.1 439.09L95.6 439.13L96.1 439.20L96.6 439.30L97.1 439.37L97.6 439.43L98.1 439.46L98.6 439.42L99.1 439.19L99.6 438.99L100.1 438.92L100.6 439.12L101.1 439.41L101.6 439.66L102.1 439.84L102.6 439.92L103.1 439.91L103.6 439.82L104.1 439.68L104.6 439.55L105.1 439.44L105.6 439.40L106.1 439.45L106.6 439.56L107.1 439.64L107.6 439.56L108.1 439.52L108.6 439.51L109.1 439.64L109.6 439.61L110.1 439.60L110.6 439.55L111.1 439.52L111.6 439.41L112.1 439.27L112.6 439.19L113.1 439.23L113.6 439.38L114.1 439.50L114.6 439.55L115.1 439.38L115.6 439.25L116.1 439.10L116.6 439.12L117.1 439.15L117.6 439.10L118.1 439.06L118.6 439.01L119.1 439.18L119.6 439.25L120.1 439.30L120.6 439.21L121.1 439.14L121.6 439.15L122.1 439.22L122.6 439.31L123.1 439.36L123.6 439.36L124.1 439.39L124.6 439.41L125.1 439.45L125.6 439.38L126.1 439.31L126.6 439.34L127.1 439.35L127.6 439.41L128.1 439.37L128.6 439.51L129.1 439.59L129.6 439.69L130.1 439.69L130.6 439.68L131.1 439.55L131.6 439.44L132.1 439.40L132.6 439.51L133.1 439.56L133.6 439.56L134.1 439.36L134.6 439.22L135.1 438.93L135.6 438.91L136.1 438.92L136.6 439.31L137.1 439.53L137.6 439.69L138.1 439.52L138.6 439.31L139.1 439.14L139.6 439.07L140.1 439.20L140.6 439.23L141.1 439.26L141.6 439.18L142.1 439.29L142.6 439.41L143.1 439.71L143.6 439.81L144.1 439.87L144.6 439.58L145.1 439.36L145.6 439.25L146.1 439.35L146.6 439.45L147.1 439.39L147.6 439.33L148.1 439.27L148.6 439.29L149.1 439.22L149.6 439.34L150.1 439.47L150.6 439.66L151.1 439.52L151.6 439.44L152.1 439.37L152.6 439.58L153.1 439.55L153.6 439.53L154.1 439.25L154.6 439.18L155.1 439.10L155.6 439.18L156.1 439.23L156.6 439.22L157.1 439.19L157.6 439.27L158.1 439.44L158.6 439.53L159.1 439.32L159.6 439.15L160.1 438.96L160.6 439.06L161.1 439.14L161.6 439.30L162.1 439.38L162.6 439.25L163.1 439.09L163.6 438.85L164.1 438.82L164.6 438.86L165.1 438.98L165.6 439.06L166.1 439.17L166.6 439.21L167.1 439.27L167.6 439.29L168.1 439.47L168.6 439.49L169.1 439.58L169.6 439.40L170.1 439.30L170.6 439.03L171.1 438.93L171.6 438.98L172.1 439.12L172.6 439.26L173.1 439.36L173.6 439.46L174.1 439.40L174.6 439.21L175.1 439.10L175.6 439.20L176.1 439.38L176.6 439.40L177.1 439.27L177.6 439.21L178.1 439.25L178.6 439.39L179.1 439.43L179.6 439.51L180.1 439.43L180.6 439.44L181.1 439.39L181.6 439.39L182.1 439.31L182.6 439.21L183.1 439.29L183.6 439.36L184.1 439.45L184.6 439.36L185.1 439.27L185.6 439.18L186.1 439.13L186.6 439.18L187.1 439.28L187.6 439.39L188.1 439.36L188.6 439.31L189.1 439.28L189.6 439.40L190.1 439.48L190.6 439.64L191.1 439.60L191.6 439.54L192.1 439.32L192.6 439.34L193.1 439.31L193.6 439.27L194.1 439.06L194.6 439.06L195.1 439.25L195.6 439.42L196.1 439.42L196.6 439.30L197.1 439.34L197.6 439.36L198.1 439.29L198.6 439.07L199.1 439.02L199.6 439.08L200.1 439.26L200.6 439.22L201.1 439.17L201.6 439.05L202.1 439.03L202.6 439.01L203.1 439.04L203.6 439.15L204.1 439.26L204.6 439.41L205.1 439.47L205.6 439.52L206.1 439.45L206.6 439.37L207.1 439.33L207.6 439.30L208.1 439.27L208.6 439.19L209.1 439.22L209.6 439.33L210.1 439.43L210.6 439.48L211.1 439.54L211.6 439.51L212.1 439.43L212.6 439.20L213.1 439.10L213.6 439.01L214.1 439.01L214.6 439.04L215.1 439.09L215.6 439.20L216.1 439.25L216.6 439.32L217.1 439.29L217.6 439.30L218.1 439.39L218.6 439.48L219.1 439.59L219.6 439.60L220.1 439.69L220.6 439.59L221.1 439.43L221.6 439.19L222.1 439.17L222.6 439.30L223.1 439.43L223.6 439.44L224.1 439.38L224.6 439.35L225.1 439.50L225.6 439.63L226.1 439.65L226.6 439.53L227.1 439.46L227.6 439.49L228.1 439.54L228.6 439.56L229.1 439.49L229.6 439.48L230.1 439.49L230.6 439.48L231.1 439.45L231.6 439.40L232.1 439.42L232.6 439.35L233.1 439.16L233.6 439.01L234.1 438.97L234.6 439.05L235.1 439.08L235.6 439.01L236.1 438.95L236.6 438.91L237.1 438.92L237.6 438.97L238.1 439.05L238.6 439.16L239.1 439.22L239.6 439.23L240.1 439.32L240.6 439.28L241.1 439.35L241.6 439.27L242.1 439.31L242.6 439.21L243.1 439.13L243.6 439.03L244.1 438.97L244.6 439.00L245.1 439.11L245.6 439.22L246.1 439.32L246.6 439.34L247.1 439.39L247.6 439.39L248.1 439.45L248.6 439.50L249.1 439.46L249.6 439.23L250.1 439.03L250.6 438.99L251.1 439.19L251.6 439.28L252.1 439.33L252.6 439.38L253.1 439.48L253.6 439.54L254.1 439.39L254.6 439.25L255.1 439.08L255.6 439.00L256.1 438.99L256.6 439.09L257.1 439.12L257.6 439.03L258.1 438.93L258.6 439.00L259.1 439.27L259.6 439.37L260.1 439.36L260.6 439.29L261.1 439.29L261.6 439.30L262.1 439.18L262.6 439.16L263.1 439.12L263.6 439.11L264.1 439.09L264.6 439.10L265.1 439.10L265.6 439.08L266.1 439.21L266.6 439.30L267.1 439.31L267.6 439.05L268.1 438.95L268.6 438.92L269.1 438.95L269.6 438.98L270.1 439.02L270.6 439.15L271.1 439.22L271.6 439.40L272.1 439.54L272.6 439.60L273.1 439.52L273.6 439.38L274.1 439.39L274.6 439.50L275.1 439.57L275.6 439.45L276.1 439.18L276.6 438.99L277.1 438.86L277.6 438.87L278.1 438.90L278.6 439.02L279.1 439.17L279.6 439.34L280.1 439.32L280.6 439.19L281.1 439.07L281.6 439.15L282.1 439.28L282.6 439.41L283.1 439.36L283.6 439.33L284.1 439.27L284.6 439.30L285.1 439.24L285.6 439.20L286.1 439.12L286.6 439.18L287.1 439.15L287.6 439.17L288.1 439.08L288.6 439.05L289.1 439.01L289.6 439.11L290.1 439.32L290.6 439.50L291.1 439.52L291.6 439.42L292.1 439.31L292.6 439.33L293.1 439.34L293.6 439.41L294.1 439.27L294.6 439.12L295.1 438.85L295.6 438.72L296.1 438.75L296.6 438.90L297.1 439.11L297.6 439.14L298.1 439.10L298.6 438.96L299.1 438.88L299.6 438.81L300.1 438.76L300.6 438.78L301.1 438.92L301.6 438.99L302.1 438.90L302.6 438.68L303.1 438.57L303.6 438.55L304.1 438.62L304.6 438.68L305.1 438.85L305.6 438.91L306.1 438.84L306.6 438.68L307.1 438.65L307.6 438.80L308.1 438.88L308.6 438.82L309.1 438.68L309.6 438.59L310.1 438.60L310.6 438.63L311.1 438.64L311.6 438.64L312.1 438.59L312.6 438.56L313.1 438.56L313.6 438.64L314.1 438.65L314.6 438.57L315.1 438.26L315.6 437.98L316.1 437.70L316.6 437.69L317.1 437.83L317.6 437.87L318.1 437.81L318.6 437.50L319.1 437.34L319.6 437.10L320.1 437.02L320.6 436.83L321.1 436.52L321.6 435.97L322.1 435.43L322.6 435.06L323.1 434.73L323.6 434.20L324.1 433.21L324.6 431.73L325.1 429.59L325.6 426.23L326.1 420.87L326.6 412.37L327.1 400.19L327.6 383.76L328.1 363.68L328.6 341.85L329.1 322.68L329.6 311.81L330.1 321.37L330.6 341.63L331.1 359.96L331.6 375.95L332.1 395.12L332.6 411.86L333.1 423.25L333.6 429.59L334.1 432.81L334.6 434.32L335.1 435.22L335.6 435.72L336.1 436.00L336.6 435.98L337.1 436.02L337.6 436.25L338.1 436.68L338.6 436.91L339.1 436.81L339.6 436.51L340.1 436.28L340.6 436.14L341.1 435.97L341.6 435.72L342.1 435.48L342.6 435.19L343.1 434.79L343.6 434.05L344.1 432.78L344.6 430.62L345.1 427.06L345.6 421.48L346.1 413.41L346.6 402.54L347.1 389.30L347.6 374.99L348.1 362.52L348.6 355.28L349.1 361.53L349.6 374.74L350.1 386.76L350.6 396.81L351.1 409.09L351.6 420.31L352.1 428.15L352.6 432.63L353.1 434.89L353.6 435.95L354.1 436.66L354.6 437.08L355.1 437.47L355.6 437.70L356.1 437.96L356.6 438.10L357.1 438.25L357.6 438.41L358.1 438.60L358.6 438.70L359.1 438.65L359.6 438.60L360.1 438.41L360.6 438.33L361.1 438.29L361.6 438.53L362.1 438.79L362.6 438.92L363.1 438.98L363.6 438.94L364.1 438.94L364.6 438.99L365.1 439.05L365.6 439.10L366.1 438.96L366.6 438.92L367.1 438.98L367.6 439.13L368.1 439.21L368.6 439.24L369.1 439.31L369.6 439.29L370.1 439.28L370.6 439.20L371.1 439.18L371.6 439.08L372.1 439.01L372.6 439.08L373.1 439.24L373.6 439.40L374.1 439.40L374.6 439.19L375.1 439.04L375.6 439.00L376.1 439.17L376.6 439.30L377.1 439.23L377.6 439.09L378.1 439.00L378.6 439.12L379.1 439.21L379.6 439.15L380.1 439.04L380.6 438.93L381.1 439.06L381.6 439.14L382.1 439.31L382.6 439.18L383.1 439.11L383.6 439.07L384.1 439.22L384.6 439.31L385.1 439.30L385.6 439.32L386.1 439.39L386.6 439.53L387.1 439.48L387.6 439.51L388.1 439.41L388.6 439.43L389.1 439.19L389.6 439.08L390.1 439.04L390.6 439.34L391.1 439.64L391.6 439.77L392.1 439.60L392.6 439.31L393.1 439.10L393.6 439.04L394.1 439.05L394.6 439.13L395.1 439.24L395.6 439.41L396.1 439.43L396.6 439.36L397.1 439.21L397.6 439.12L398.1 439.25L398.6 439.43L399.1 439.58L399.6 439.44L400.1 439.17L400.6 438.98L401.1 439.05L401.6 439.22L402.1 439.37L402.6 439.35L403.1 439.31L403.6 439.28L404.1 439.33L404.6 439.49L405.1 439.55L405.6 439.61L406.1 439.49L406.6 439.47L407.1 439.50L407.6 439.56L408.1 439.52L408.6 439.27L409.1 439.20L409.6 439.23L410.1 439.46L410.6 439.51L411.1 439.40L411.6 439.24L412.1 439.12L412.6 439.23L413.1 439.28L413.6 439.34L414.1 439.28L414.6 439.22L415.1 439.16L415.6 439.15L416.1 439.11L416.6 439.12L417.1 439.09L417.6 439.19L418.1 439.23L418.6 439.24L419.1 439.24L419.6 439.30L420.1 439.38L420.6 439.45L421.1 439.31L421.6 439.28L422.1 439.25L422.6 439.44L423.1 439.41L423.6 439.46L424.1 439.41L424.6 439.56L425.1 439.57L425.6 439.66L426.1 439.61L426.6 439.62L427.1 439.52L427.6 439.33L428.1 438.95L428.6 438.68L429.1 438.55L429.6 438.79L430.1 439.08L430.6 439.36L431.1 439.42L431.6 439.25L432.1 439.12L432.6 438.90L433.1 438.78L433.6 438.71L434.1 438.86L434.6 439.03L435.1 439.00L435.6 438.88L436.1 438.75L436.6 438.79L437.1 438.75L437.6 438.54L438.1 438.05L438.6 437.47L439.1 436.80L439.6 435.70L440.1 434.12L440.6 431.94L441.1 429.50L441.6 426.86L442.1 424.52L442.6 423.15L443.1 424.42L443.6 426.99L444.1 429.07L444.6 430.50L445.1 432.35L445.6 434.71L446.1 436.64L446.6 437.77L447.1 438.32L447.6 438.57L448.1 438.72L448.6 438.84L449.1 438.92L449.6 438.98L450.1 439.10L450.6 439.26L451.1 439.39L451.6 439.40L452.1 439.26L452.6 439.14L453.1 439.05L453.6 439.13L454.1 439.24L454.6 439.41L455.1 439.46L455.6 439.44L456.1 439.42L456.6 439.53L457.1 439.62L457.6 439.45L458.1 439.15L458.6 438.84L459.1 438.89L459.6 438.98L460.1 439.26L460.6 439.39L461.1 439.50L461.6 439.36L462.1 439.26L462.6 439.13L463.1 439.15L463.6 439.16L464.1 439.34L464.6 439.43L465.1 439.51L465.6 439.41L466.1 439.37L466.6 439.27L467.1 439.18L467.6 439.09L468.1 439.13L468.6 439.28L469.1 439.40L469.6 439.43L470.1 439.37L470.6 439.41L471.1 439.46L471.6 439.51L472.1 439.43L472.6 439.34L473.1 439.25L473.6 439.16L474.1 439.03L474.6 438.82L475.1 438.79L475.6 438.87L476.1 439.15L476.6 439.32L477.1 439.36L477.6 439.32L478.1 439.35L478.6 439.40L479.1 439.48L479.6 439.41L480.1 439.48L480.6 439.41L481.1 439.44L481.6 439.19L482.1 439.09L482.6 438.91L483.1 439.00L483.6 439.03L484.1 439.11L484.6 439.04L485.1 438.99L485.6 438.94L486.1 439.04L486.6 439.15L487.1 439.27L487.6 439.28L488.1 439.32L488.6 439.44L489.1 439.42L489.6 439.35L490.1 439.16L490.6 439.20L491.1 439.29L491.6 439.46L492.1 439.56L492.6 439.64L493.1 439.66L493.6 439.60L494.1 439.47L494.6 439.38L495.1 439.36L495.6 439.39L496.1 439.37L496.6 439.46L497.1 439.43L497.6 439.52L498.1 439.36L498.6 439.38L499.1 439.33L499.6 439.43L500.1 439.56L500.6 439.57L501.1 439.72L501.6 439.73L502.1 439.85L502.6 439.67L503.1 439.45L503.6 439.16L504.1 438.98L504.6 438.91L505.1 438.91L505.6 439.02L506.1 439.07L506.6 439.20L507.1 439.17L507.6 439.11L508.1 439.03L508.6 439.02L509.1 439.11L509.6 439.09L510.1 439.16L510.6 439.31L511.1 439.62L511.6 439.86L512.1 439.90L512.6 439.78L513.1 439.60L513.6 439.45L514.1 439.24L514.6 439.12L515.1 439.02L515.6 439.15L516.1 439.32L516.6 439.57L517.1 439.75L517.6 439.79L518.1 439.69L518.6 439.47L519.1 439.20L519.6 438.99L520.1 438.92L520.6 439.06L521.1 439.26L521.6 439.40L522.1 439.34L522.6 439.20L523.1 439.11L523.6 439.08L524.1 439.07L524.6 438.95L525.1 438.94L525.6 438.91L526.1 439.00L526.6 439.00L527.1 439.03L527.6 439.03L528.1 439.09L528.6 439.18L529.1 439.35L529.6 439.37L530.1 439.31L530.6 439.14L531.1 439.12L531.6 439.17L532.1 439.27L532.6 439.30L533.1 439.28L533.6 439.29L534.1 439.33L534.6 439.33L535.1 439.27L535.6 439.14L536.1 439.05L536.6 439.07L537.1 439.22L537.6 439.33L538.1 439.35L538.6 439.17L539.1 439.02L539.6 439.02L540.1 439.25L540.6 439.49L541.1 439.65L541.6 439.51L542.1 439.31L542.6 439.02L543.1 438.91L543.6 438.88L544.1 438.95L544.6 438.98L545.1 438.95L545.6 438.84L546.1 438.82L546.6 438.84L547.1 438.97L547.6 439.07L548.1 439.18L548.6 439.22L549.1 439.17L549.6 439.02L550.1 438.86L550.6 438.73L551.1 438.76L551.6 438.84L552.1 438.79L552.6 438.74L553.1 438.55L553.6 438.50L554.1 438.24L554.6 437.89L555.1 437.44L555.6 436.85L556.1 436.11L556.6 434.81L557.1 432.79L557.6 429.92L558.1 426.41L558.6 422.78L559.1 419.89L559.6 418.90L560.1 421.60L560.6 425.22L561.1 427.65L561.6 428.77L562.1 429.76L562.6 432.05L563.1 434.64L563.6 436.61L564.1 437.68L564.6 438.03L565.1 438.13L565.6 438.37L566.1 438.67L566.6 438.88L567.1 438.82L567.6 438.81L568.1 438.96L568.6 439.17L569.1 439.28L569.6 439.27L570.1 439.36L570.6 439.38L571.1 439.35L571.6 439.18L572.1 439.12L572.6 439.16L573.1 439.28L573.6 439.42L574.1 439.46L574.6 439.57L575.1 439.61L575.6 439.59L576.1 439.41L576.6 439.19L577.1 439.09L577.6 439.07L578.1 439.05L578.6 438.98L579.1 438.84L579.6 438.82L580.1 438.90L580.6 439.16L581.1 439.35L581.6 439.39L582.1 439.27L582.6 439.07L583.1 439.03L583.6 438.96L584.1 439.00L584.6 439.02L585.1 439.21L585.6 439.34L586.1 439.33L586.6 439.15L587.1 438.99L587.6 438.92L588.1 438.92L588.6 438.97L589.1 439.10L589.6 439.22L590.1 439.24L590.6 439.09L591.1 438.96L591.6 438.93L592.1 439.00L592.6 439.04L593.1 439.00L593.6 439.02L594.1 439.16L594.6 439.41L595.1 439.55L595.6 439.50L596.1 439.38L596.6 439.40L597.1 439.53L597.6 439.54L598.1 439.41L598.6 439.32L599.1 439.38L599.6 439.54L600.1 439.59L600.6 439.54L601.1 439.32L601.6 439.16L602.1 439.10L602.6 439.25L603.1 439.40L603.6 439.46L604.1 439.42L604.6 439.30L605.1 439.34L605.6 439.42L606.1 439.52L606.6 439.47L607.1 439.29L607.6 439.17L608.1 439.08L608.6 439.19L609.1 439.17L609.6 439.12L610.1 438.94L610.6 438.89L611.1 438.96L611.6 439.07L612.1 439.04L612.6 438.88L613.1 438.81L613.6 438.96L614.1 439.14L614.6 439.24L615.1 439.16L615.6 439.21L616.1 439.24L616.6 439.37L617.1 439.33L617.6 439.40L618.1 439.42L618.6 439.48L619.1 439.26L619.6 439.05L620.1 438.84L620.6 438.85L621.1 438.83L621.6 438.91L622.1 438.99L622.6 438.97L623.1 438.85L623.6 438.70L624.1 438.88L624.6 439.16L625.1 439.39L625.6 439.32L626.1 439.22L626.6 439.17L627.1 439.17L627.6 438.99L628.1 438.73L628.6 438.55L629.1 438.71L629.6 438.87L630.1 439.07L630.6 438.88L631.1 438.81L631.6 438.58L632.1 438.64L632.6 438.56L633.1 438.66L633.6 438.65L634.1 438.63L634.6 438.58L635.1 438.47L635.6 438.46L636.1 438.36L636.6 438.33L637.1 438.24L637.6 438.25L638.1 438.18L638.6 438.16L639.1 438.10L639.6 438.11L640.1 437.88L640.6 437.67L641.1 437.32L641.6 437.21L642.1 436.91L642.6 436.83L643.1 436.53L643.6 436.40L644.1 435.89L644.6 435.39L645.1 434.59L645.6 433.88L646.1 432.94L646.6 431.49L647.1 428.76L647.6 423.94L648.1 416.48L648.6 405.99L649.1 392.50L649.6 376.71L650.1 360.62L650.6 347.94L651.1 343.77L651.6 356.44L652.1 373.13L652.6 383.86L653.1 388.27L653.6 390.86L654.1 398.90L654.6 411.86L655.1 423.06L655.6 430.27L656.1 433.91L656.6 435.63L657.1 436.42L657.6 436.96L658.1 437.25L658.6 437.54L659.1 437.71L659.6 437.95L660.1 438.12L660.6 438.27L661.1 438.31L661.6 438.35L662.1 438.33L662.6 438.32L663.1 438.28L663.6 438.34L664.1 438.46L664.6 438.63L665.1 438.78L665.6 438.90L666.1 438.88L666.6 438.78L667.1 438.79L667.6 438.82L668.1 438.88L668.6 438.68L669.1 438.61L669.6 438.60L670.1 438.78L670.6 438.97L671.1 439.00L671.6 438.96L672.1 438.78L672.6 438.85L673.1 438.97L673.6 439.09L674.1 438.99L674.6 438.93L675.1 438.98L675.6 439.13L676.1 439.12L676.6 439.11L677.1 439.14L677.6 439.21L678.1 439.18L678.6 439.13L679.1 439.08L679.6 439.08L680.1 439.04L680.6 439.07L681.1 439.06L681.6 439.13L682.1 439.19L682.6 439.31L683.1 439.14L683.6 439.00L684.1 438.88L684.6 439.13L685.1 439.28L685.6 439.28L686.1 439.24L686.6 439.30L687.1 439.60L687.6 439.81L688.1 439.84L688.6 439.64L689.1 439.22L689.6 439.03L690.1 438.90L690.6 439.05L691.1 439.11L691.6 439.20L692.1 439.23L692.6 439.21L693.1 439.21L693.6 439.24L694.1 439.38L694.6 439.44L695.1 439.42L695.6 439.28L696.1 439.16L696.6 439.08L697.1 439.06L697.6 439.06L698.1 439.13L698.6 439.22L699.1 439.26L699.6 439.22L700.1 439.23L700.6 439.25L701.1 439.32L701.6 439.20L702.1 439.07L702.6 438.86L703.1 438.85L703.6 438.92L704.1 439.15L704.6 439.26L705.1 439.29L705.6 439.21L706.1 439.16L706.6 439.06L707.1 439.04L707.6 439.07L708.1 439.31L708.6 439.41L709.1 439.41L709.6 439.24L710.1 439.06L710.6 439.02L711.1 439.04L711.6 439.11L712.1 439.05L712.6 439.10L713.1 439.20L713.6 439.33L714.1 439.31L714.6 439.19L715.1 439.05L715.6 438.89L716.1 438.83L716.6 438.71L717.1 438.54L717.6 438.19L718.1 437.83L718.6 437.37L719.1 436.50L719.6 435.05L720.1 432.92L720.6 430.47L721.1 427.71L721.6 425.18L722.1 423.25L722.6 423.18L723.1 425.81L723.6 428.81L724.1 430.61L724.6 431.23L725.1 431.34L725.6 432.19L726.1 434.23L726.6 436.33L727.1 437.73L727.6 438.38L728.1 438.55L728.6 438.50L729.1 438.48L729.6 438.62L730.1 438.76L730.6 438.92L731.1 438.87L731.6 438.91L732.1 438.92L732.6 438.98L733.1 438.96L733.6 438.82L734.1 438.84L734.6 438.92L735.1 439.16L735.6 439.25L736.1 439.33L736.6 439.29L737.1 439.30L737.6 439.30L738.1 439.32L738.6 439.32L739.1 439.26L739.6 439.36L740.1 439.45L740.6 439.53L741.1 439.40L741.6 439.28L742.1 439.22L742.6 439.31L743.1 439.34L743.6 439.38L744.1 439.39L744.6 439.53L745.1 439.55L745.6 439.53L746.1 439.42L746.6 439.36L747.1 439.26L747.6 439.12L748.1 439.02L748.6 439.01L749.1 439.03L749.6 439.05L750.1 439.08L750.6 439.10L751.1 439.27L751.6 439.37L752.1 439.44L752.6 439.33L753.1 439.26L753.6 439.16L754.1 439.10L754.6 439.04L755.1 439.17L755.6 439.34L756.1 439.42L756.6 439.32L757.1 439.19L757.6 439.21L758.1 439.28L758.6 439.41L759.1 439.59L759.6 439.72L760.1 439.65L760.6 439.39L761.1 439.24L761.6 439.23L762.1 439.27L762.6 439.09L763.1 439.02L763.6 439.03L764.1 439.21L764.6 439.32L765.1 439.46L765.6 439.52L766.1 439.42L766.6 439.29L767.1 439.19L767.6 439.28L768.1 439.31L768.6 439.27L769.1 439.22L769.6 439.20L770.1 439.21L770.6 439.19L771.1 439.19L771.6 439.34L772.1 439.51L772.6 439.74L773.1 439.82L773.6 439.82L774.1 439.66L774.6 439.49L775.1 439.32L775.6 439.21L776.1 439.14L776.6 439.11L777.1 439.12L777.6 439.15L778.1 439.31L778.6 439.46L779.1 439.54L779.6 439.38L780.1 439.15L780.6 439.01L781.1 438.98L781.6 439.08L782.1 439.05L782.6 439.11L783.1 439.22L783.6 439.49L784.1 439.58L784.6 439.44L785.1 439.10L785.6 438.83L786.1 438.70L786.6 438.88L787.1 439.10L787.6 439.26L788.1 439.23L788.6 439.23L789.1 439.33L789.6 439.39L790.1 439.40L790.6 439.35L791.1 439.29L791.6 439.20L792.1 439.17L792.6 439.26L793.1 439.32L793.6 439.25L794.1 439.08L794.6 439.01L795.1 439.04L795.6 439.18L796.1 439.25L796.6 439.30L797.1 439.11L797.6 439.06L798.1 439.11L798.6 439.38L799.1 439.60L799.6 439.58L800.1 439.50L800.6 439.36L801.1 439.38L801.6 439.36L802.1 439.20L802.6 439.09L803.1 439.07L803.6 439.33L804.1 439.44L804.6 439.52L805.1 439.44L805.6 439.43L806.1 439.45L806.6 439.44L807.1 439.39L807.6 439.23L808.1 439.14L808.6 439.10L809.1 439.16L809.6 439.26L810.1 439.34L810.6 439.43L811.1 439.40L811.6 439.34L812.1 439.14L812.6 439.13L813.1 439.21L813.6 439.41L814.1 439.53L814.6 439.55L815.1 439.48L815.6 439.37L816.1 439.37L816.6 439.42L817.1 439.40L817.6 439.22L818.1 439.12L818.6 439.14L819.1 439.28L819.6 439.25L820.1 439.17L820.6 438.93L821.1 438.91L821.6 438.99L822.1 439.26L822.6 439.38L823.1 439.37L823.6 439.26L824.1 439.15L824.6 439.12L825.1 439.14L825.6 439.21L826.1 439.24L826.6 439.28L827.1 439.42L827.6 439.66L828.1 439.93L828.6 439.93L829.1 439.71L829.6 439.27L830.1 439.07L830.6 439.10L831.1 439.24L831.6 439.29L832.1 439.18L832.6 439.26L833.1 439.32L833.6 439.40L834.1 439.29L834.6 439.15L835.1 439.07L835.6 439.01L836.1 439.03L836.6 439.05L837.1 439.13L837.6 439.23L838.1 439.33L838.6 439.29L839.1 439.17L839.6 438.98L840.1 439.02L840.6 439.04L841.1 439.08L841.6 438.89L842.1 438.75L842.6 438.71L843.1 438.82L843.6 438.93L844.1 438.90L844.6 438.80L845.1 438.64L845.6 438.53L846.1 438.59L846.6 438.61L847.1 438.66L847.6 438.55L848.1 438.62L848.6 438.58L849.1 438.50L849.6 438.19L850.1 437.88L850.6 437.58L851.1 437.20L851.6 436.63L852.1 435.72L852.6 434.70L853.1 433.59L853.6 432.64L854.1 431.73L854.6 430.98L855.1 430.36L855.6 430.54L856.1 431.43L856.6 432.53L857.1 433.32L857.6 433.85L858.1 434.21L858.6 434.57L859.1 435.25L859.6 436.12L860.1 436.96L860.6 437.62L861.1 438.03L861.6 438.37L862.1 438.63L862.6 438.80L863.1 438.79L863.6 438.73L864.1 438.66L864.6 438.65L865.1 438.66L865.6 438.73L866.1 438.69L866.6 438.58L867.1 438.49L867.6 438.48L868.1 438.54L868.6 438.46L869.1 438.31L869.6 438.09L870.1 438.05L870.6 438.02L871.1 437.91L871.6 437.73L872.1 437.60L872.6 437.66L873.1 437.62L873.6 437.48L874.1 437.32L874.6 437.09L875.1 436.73L875.6 435.95L876.1 435.04L876.6 433.90L877.1 432.47L877.6 430.06L878.1 426.06L878.6 420.24L879.1 412.60L879.6 403.53L880.1 393.79L880.6 385.35L881.1 380.82L881.6 385.84L882.1 397.59L882.6 406.88L883.1 410.72L883.6 410.36L884.1 408.67L884.6 408.59L885.1 413.89L885.6 421.65L886.1 427.90L886.6 431.57L887.1 433.23L887.6 433.71L888.1 433.48L888.6 432.67L889.1 431.19L889.6 428.64L890.1 424.45L890.6 417.83L891.1 408.46L891.6 396.21L892.1 382.06L892.6 368.07L893.1 357.83L893.6 355.87L894.1 369.55L894.6 386.65L895.1 397.21L895.6 399.99L896.1 398.17L896.6 396.29L897.1 398.67L897.6 408.87L898.1 420.19L898.6 428.36L899.1 432.95L899.6 435.26L900.1 436.49L900.6 437.17L901.1 437.50L901.6 437.73L902.1 437.95L902.6 438.13L903.1 438.13L903.6 438.10L904.1 438.18L904.6 438.40L905.1 438.62L905.6 438.74L906.1 438.85L906.6 438.94L907.1 439.09L907.6 439.23L908.1 439.31L908.6 439.23L909.1 439.07L909.6 438.92L910.1 438.92L910.6 439.00L911.1 439.14L911.6 439.23L912.1 439.16L912.6 439.13L913.1 439.06L913.6 439.05L914.1 438.92L914.6 438.84L915.1 438.94L915.6 439.04L916.1 439.12L916.6 439.10L917.1 439.16L917.6 439.25L918.1 439.26L918.6 439.23L919.1 439.10L919.6 438.95L920.1 438.80L920.6 438.73L921.1 438.82L921.6 438.88L922.1 438.93L922.6 438.91L923.1 438.92L923.6 438.86L924.1 438.77L924.6 438.61L925.1 438.33L925.6 437.87L926.1 437.23L926.6 436.67L927.1 436.19L927.6 435.73L928.1 434.97L928.6 434.12L929.1 433.32L929.6 432.86L930.1 432.72L930.6 433.24L931.1 434.07L931.6 434.88L932.1 435.45L932.6 435.78L933.1 435.98L933.6 436.31L934.1 436.85L934.6 437.60L935.1 438.10L935.6 438.41L936.1 438.44L936.6 438.64L937.1 438.86L937.6 439.20L938.1 439.25L938.6 439.21L939.1 439.06L939.6 439.10L940.1 439.25L940.6 439.42L941.1 439.57L941.6 439.52L942.1 439.34L942.6 439.02L943.1 438.87L943.6 438.94L944.1 439.14L944.6 439.30L945.1 439.30L945.6 439.27L946.1 439.30L946.6 439.42L947.1 439.41L947.6 439.11L948.1 438.76L948.6 438.50L949.1 438.69L949.6 438.95L950.1 439.21L950.6 439.20L951.1 439.12L951.6 439.12L952.1 439.31L952.6 439.61L953.1 439.73L953.6 439.52L954.1 439.20L954.6 438.95L955.1 439.00L955.6 439.03L956.1 439.23L956.6 439.30L957.1 439.38L957.6 439.28L958.1 439.31L958.6 439.37L959.1 439.44L959.6 439.42L960.1 439.37L960.6 439.25L961.1 439.09L961.6 439.05L962.1 439.13L962.6 439.22L963.1 439.19L963.6 439.26L964.1 439.42L964.6 439.58L965.1 439.45L965.6 439.19L966.1 438.90L966.6 438.76L967.1 438.82L967.6 438.90L968.1 439.19L968.6 439.27L969.1 439.44L969.6 439.27L970.1 439.25L970.6 439.20L971.1 439.25L971.6 439.26L972.1 439.23L972.6 439.24L973.1 439.39L973.6 439.42L974.1 439.53L974.6 439.37L975.1 439.43L975.6 439.36L976.1 439.37L976.6 439.30L977.1 439.24L977.6 439.19L978.1 439.20L978.6 439.18L979.1 439.25L979.6 439.15L980.1 439.11L980.6 438.84L981.1 438.66L981.6 438.62L982.1 438.91L982.6 439.26L983.1 439.52L983.6 439.55L984.1 439.54L984.6 439.44L985.1 439.45L985.6 439.39L986.1 439.28L986.6 439.11L987.1 439.08L987.6 439.25L988.1 439.41L988.6 439.52L989.1 439.51L989.6 439.52L990.1 439.56L990.6 439.61L991.1 439.57L991.6 439.43L992.1 439.30L992.6 439.18L993.1 439.20L993.6 439.17L994.1 439.19L994.6 439.15L995.1 439.21L995.6 439.38L996.1 439.48L996.6 439.52L997.1 439.36L997.6 439.34L998.1 439.32L998.6 439.42L999.1 439.33L999.6 439.23L1000.1 439.14L1000.6 439.24L1001.1 439.40L1001.6 439.50L1002.1 439.53L1002.6 439.47L1003.1 439.38L1003.6 439.25L1004.1 439.21L1004.6 439.21L1005.1 439.30L1005.6 439.41L1006.1 439.61L1006.6 439.66L1007.1 439.61L1007.6 439.47L1008.1 439.42L1008.6 439.38L1009.1 439.37L1009.6 439.42L1010.1 439.58L1010.6 439.60L1011.1 439.60L1011.6 439.53L1012.1 439.60L1012.6 439.58L1013.1 439.53L1013.6 439.45L1014.1 439.41L1014.6 439.43L1015.1 439.45L1015.6 439.40L1016.1 439.30L1016.6 439.31L1017.1 439.44L1017.6 439.56L1018.1 439.50L1018.6 439.38L1019.1 439.23L1019.6 439.16L1020.1 439.07L1020.6 439.08L1021.1 439.19L1021.6 439.57L1022.1 439.79L1022.6 439.77L1023.1 439.34L1023.6 439.14L1024.1 439.05L1024.6 439.18L1025.1 439.20L1025.6 439.27L1026.1 439.33L1026.6 439.42L1027.1 439.50L1027.6 439.63L1028.1 439.74L1028.6 439.78L1029.1 439.70L1029.6 439.62L1030.1 439.60L1030.6 439.53L1031.1 439.37L1031.6 439.19L1032.1 439.08L1032.6 439.09L1033.1 439.02L1033.6 439.01L1034.1 439.06L1034.6 439.19L1035.1 439.35L1035.6 439.47L1036.1 439.56L1036.6 439.56L1037.1 439.38L1037.6 439.18L1038.1 438.99L1038.6 438.99L1039.1 439.16L1039.6 439.37L1040.1 439.51L1040.6 439.36L1041.1 439.28L1041.6 439.14L1042.1 439.28L1042.6 439.16L1043.1 439.19L1043.6 439.11L1044.1 439.22L1044.6 439.27L1045.1 439.40L1045.6 439.56L1046.1 439.59L1046.6 439.49L1047.1 439.28L1047.6 439.22L1048.1 439.19L1048.6 439.20L1049.1 439.14L1049.6 439.22L1050.1 439.26L1050.6 439.38L1051.1 439.33L1051.6 439.42L1052.1 439.43L1052.6 439.50L1053.1 439.33L1053.6 439.17L1054.1 438.88L1054.6 438.82L1055.1 438.78L1055.6 438.98L1056.1 439.10L1056.6 439.21L1057.1 439.17L1057.6 439.15L1058.1 439.25L1058.6 439.41L1059.1 439.41L1059.6 439.25L1060.1 439.11L1060.6 439.13L1061.1 439.23L1061.6 439.31L1062.1 439.33L1062.6 439.35L1063.1 439.29L1063.6 439.20L1064.1 439.09L1064.6 438.98L1065.1 438.86L1065.6 438.65L1066.1 438.50L1066.6 438.33L1067.1 438.33L1067.6 438.32L1068.1 438.31L1068.6 438.10L1069.1 437.66L1069.6 436.90L1070.1 435.92L1070.6 434.58L1071.1 433.13L1071.6 431.44L1072.1 430.03L1072.6 428.99L1073.1 428.85L1073.6 430.22L1074.1 432.26L1074.6 433.89L1075.1 434.78L1075.6 434.91L1076.1 434.66L1076.6 434.40L1077.1 434.47L1077.6 435.36L1078.1 436.49L1078.6 437.45L1079.1 437.94L1079.6 438.19L1080.1 438.38L1080.6 438.62L1081.1 438.89L1081.6 439.07L1082.1 439.22L1082.6 439.17L1083.1 439.10L1083.6 439.00L1084.1 439.07L1084.6 439.14L1085.1 439.17L1085.6 439.14L1086.1 438.96L1086.6 438.71L1087.1 438.48L1087.6 438.53L1088.1 438.74L1088.6 438.94L1089.1 438.95L1089.6 438.83L1090.1 438.60L1090.6 438.39L1091.1 438.19L1091.6 437.99L1092.1 437.63L1092.6 437.00L1093.1 436.02L1093.6 434.58L1094.1 432.68L1094.6 430.24L1095.1 427.48L1095.6 424.90L1096.1 423.16L1096.6 423.52L1097.1 426.70L1097.6 430.20L1098.1 432.28L1098.6 432.97L1099.1 432.63L1099.6 431.91L1100.1 431.20L1100.6 431.34L1101.1 432.95L1101.6 435.17L1102.1 436.88L1102.6 438.14L1103.1 438.88L1103.6 439.16L1104.1 439.06L1104.6 438.79L1105.1 438.67L1105.6 438.72L1106.1 438.92L1106.6 439.14L1107.1 439.23L1107.6 439.23L1108.1 439.22L1108.6 439.38L1109.1 439.50L1109.6 439.63L1110.1 439.58L1110.6 439.56L1111.1 439.51L1111.6 439.49L1112.1 439.46L1112.6 439.37L1113.1 439.25L1113.6 439.03L1114.1 438.92L1114.6 438.89L1115.1 439.05L1115.6 439.22L1116.1 439.38L1116.6 439.39L1117.1 439.38L1117.6 439.30L1118.1 439.27L1118.6 439.12L1119.1 439.12L1119.6 439.20L1120.1 439.41L1120.6 439.55L1121.1 439.60L1121.6 439.56L1122.1 439.50L1122.6 439.28L1123.1 439.15L1123.6 439.02L1124.1 439.15L1124.6 439.31L1125.1 439.49L1125.6 439.57L1126.1 439.43L1126.6 439.27L1127.1 439.05L1127.6 438.98L1128.1 438.90L1128.6 439.00L1129.1 439.07L1129.6 439.30L1130.1 439.40L1130.6 439.45L1131.1 439.31L1131.6 439.22L1132.1 439.14L1132.6 439.13L1133.1 439.04L1133.6 439.02L1134.1 439.05L1134.6 439.14L1135.1 439.22L1135.6 439.14L1136.1 439.08L1136.6 438.90L1137.1 438.64L1137.6 438.17L1138.1 437.54L1138.6 437.07L1139.1 436.67L1139.6 436.52L1140.1 436.29L1140.6 436.22L1141.1 436.05L1141.6 436.05L1142.1 436.14L1142.6 436.38L1143.1 436.78L1143.6 437.19L1144.1 437.46L1144.6 437.56L1145.1 437.53L1145.6 437.70L1146.1 437.93L1146.6 438.30L1147.1 438.56L1147.6 438.88L1148.1 439.14L1148.6 439.35L1149.1 439.44L1149.6 439.47L1150.1 439.39L1150.6 439.35L1151.1 439.34L1151.6 439.54L1152.1 439.59L1152.6 439.58L1153.1 439.27L1153.6 439.07L1154.1 438.84L1154.6 438.88L1155.1 438.92L1155.6 439.03L1156.1 439.09L1156.6 439.02L1157.1 439.05L1157.6 438.97L1158.1 439.01L1158.6 438.72L1159.1 438.55L1159.6 438.23L1160.1 438.01L1160.6 437.64L1161.1 437.20L1161.6 436.61L1162.1 435.73L1162.6 434.86L1163.1 434.03L1163.6 433.60L1164.1 433.35L1164.6 433.95L1165.1 434.87L1165.6 435.80L1166.1 436.32L1166.6 436.61L1167.1 436.57L1167.6 436.43L1168.1 436.32L1168.6 436.47L1169.1 437.07L1169.6 437.76L1170.1 438.36L1170.6 438.75L1171.1 439.00L1171.6 439.05L1172.1 439.07L1172.6 439.10L1173.1 439.16L1173.6 439.08L1174.1 439.06L1174.6 439.06L1175.1 439.20L1175.6 439.13L1176.1 439.05L1176.6 439.07L1177.1 439.16L1177.6 439.26L1178.1 439.16L1178.6 439.09L1179.1 439.01L1179.6 439.03L1180.1 439.15L1180.6 439.40L1181.1 439.59L1181.6 439.59L1182.1 439.37L1182.6 439.15L1183.1 439.05L1183.6 439.09L1184.1 439.19L1184.6 439.28L1185.1 439.35L1185.6 439.37L1186.1 439.39L1186.6 439.32L1187.1 439.34L1187.6 439.30L1188.1 439.38L1188.6 439.41L1189.1 439.41L1189.6 439.37L1190.1 439.32L1190.6 439.16L1191.1 439.05L1191.6 438.92L1192.1 439.05L1192.6 439.18L1193.1 439.38L1193.6 439.52L1194.1 439.44L1194.6 439.45L1195.1 439.33L1195.6 439.51L1196.1 439.46L1196.6 439.62L1197.1 439.62L1197.6 439.69L1198.1 439.52L1198.6 439.24L1199.1 439.02L1199.6 439.02L1200.1 439.24L1200.6 439.43L1201.1 439.51L1201.6 439.54L1202.1 439.58L1202.6 439.62L1203.1 439.56L1203.6 439.40L1204.1 439.24L1204.6 439.12L1205.1 439.14L1205.6 439.10L1206.1 439.12L1206.6 439.13L1207.1 439.37L1207.6 439.55L1208.1 439.66L1208.6 439.69L1209.1 439.78L1209.6 439.87L1210.1 439.75L1210.6 439.54L1211.1 439.34L1211.6 439.30L1212.1 439.24L1212.6 439.06L1213.1 438.99L1213.6 438.95L1214.1 439.22L1214.6 439.32L1215.1 439.50L1215.6 439.37L1216.1 439.34L1216.6 439.32L1217.1 439.35L1217.6 439.29L1218.1 439.13L1218.6 439.04L1219.1 439.05L1219.6 439.15L1220.1 439.27L1220.6 439.43L1221.1 439.52L1221.6 439.55L1222.1 439.46L1222.6 439.40L1223.1 439.31L1223.6 439.42L1224.1 439.56L1224.6 439.70L1225.1 439.72L1225.6 439.58L1226.1 439.58L1226.6 439.48L1227.1 439.58L1227.6 439.51L1228.1 439.50L1228.6 439.30L1229.1 439.23L1229.6 439.19L1230.1 439.35L1230.6 439.36L1231.1 439.43L1231.6 439.38L1232.1 439.45L1232.6 439.41L1233.1 439.36L1233.6 439.33L1234.1 439.42L1234.6 439.48L1235.1 439.37L1235.6 439.08L1236.1 438.84L1236.6 438.88L1237.1 439.00L1237.6 439.05L1238.1 438.91L1238.6 438.81L1239.1 438.80L1239.6 438.85L1240.1 438.93L1240.6 439.02L1241.1 439.19L1241.6 439.28L1242.1 439.41L1242.6 439.30L1243.1 439.24L1243.6 439.04" fill="none" stroke="#000" stroke-width="2.4" stroke-linejoin="round" stroke-linecap="round"/>
<path clip-path="url(#c2)" d="M95.1 650.98L95.6 650.93L96.1 650.75L96.6 650.68L97.1 650.80L97.6 650.99L98.1 651.08L98.6 651.01L99.1 650.87L99.6 650.76L100.1 650.70L100.6 650.79L101.1 650.93L101.6 651.01L102.1 651.00L102.6 650.91L103.1 650.99L103.6 651.11L104.1 651.30L104.6 651.23L105.1 651.07L105.6 650.78L106.1 650.80L106.6 650.80L107.1 650.97L107.6 650.98L108.1 651.01L108.6 650.98L109.1 650.79L109.6 650.72L110.1 650.60L110.6 650.70L111.1 650.76L111.6 650.91L112.1 650.98L112.6 650.96L113.1 650.94L113.6 650.88L114.1 650.89L114.6 650.75L115.1 650.71L115.6 650.79L116.1 650.98L116.6 651.07L117.1 650.99L117.6 651.00L118.1 651.04L118.6 651.15L119.1 651.08L119.6 650.99L120.1 650.85L120.6 650.89L121.1 650.98L121.6 651.09L122.1 651.10L122.6 651.11L123.1 651.15L123.6 651.24L124.1 651.28L124.6 651.23L125.1 651.10L125.6 650.81L126.1 650.64L126.6 650.55L127.1 650.76L127.6 650.82L128.1 650.82L128.6 650.63L129.1 650.55L129.6 650.57L130.1 650.73L130.6 650.92L131.1 651.01L131.6 651.04L132.1 651.04L132.6 651.10L133.1 651.12L133.6 651.29L134.1 651.32L134.6 651.23L135.1 650.90L135.6 650.81L136.1 650.84L136.6 650.91L137.1 650.74L137.6 650.70L138.1 650.71L138.6 650.92L139.1 650.99L139.6 651.14L140.1 651.19L140.6 651.25L141.1 651.23L141.6 651.22L142.1 651.14L142.6 650.98L143.1 650.84L143.6 650.84L144.1 650.94L144.6 650.99L145.1 651.12L145.6 651.27L146.1 651.45L146.6 651.34L147.1 651.19L147.6 651.07L148.1 651.12L148.6 651.21L149.1 651.13L149.6 651.06L150.1 650.97L150.6 651.07L151.1 650.96L151.6 650.78L152.1 650.48L152.6 650.51L153.1 650.55L153.6 650.67L154.1 650.73L154.6 650.85L155.1 651.04L155.6 651.08L156.1 651.07L156.6 650.96L157.1 651.01L157.6 651.06L158.1 650.98L158.6 650.80L159.1 650.67L159.6 650.74L160.1 650.88L160.6 651.04L161.1 651.13L161.6 651.18L162.1 651.21L162.6 651.23L163.1 651.24L163.6 651.14L164.1 651.02L164.6 650.88L165.1 650.75L165.6 650.67L166.1 650.62L166.6 650.73L167.1 650.81L167.6 650.91L168.1 650.88L168.6 650.90L169.1 650.89L169.6 650.86L170.1 650.82L170.6 650.80L171.1 650.89L171.6 651.00L172.1 651.00L172.6 650.95L173.1 650.99L173.6 651.04L174.1 651.08L174.6 650.94L175.1 651.03L175.6 651.12L176.1 651.22L176.6 651.20L177.1 651.08L177.6 651.06L178.1 650.96L178.6 650.96L179.1 650.96L179.6 650.95L180.1 650.87L180.6 650.76L181.1 650.67L181.6 650.74L182.1 650.85L182.6 651.10L183.1 651.11L183.6 650.99L184.1 650.56L184.6 650.30L185.1 650.20L185.6 650.41L186.1 650.53L186.6 650.60L187.1 650.54L187.6 650.58L188.1 650.74L188.6 650.92L189.1 651.09L189.6 651.05L190.1 650.91L190.6 650.83L191.1 650.89L191.6 651.09L192.1 651.09L192.6 651.05L193.1 650.93L193.6 650.89L194.1 650.80L194.6 650.65L195.1 650.65L195.6 650.69L196.1 650.85L196.6 650.85L197.1 650.87L197.6 650.84L198.1 650.82L198.6 650.80L199.1 650.89L199.6 651.08L200.1 651.20L200.6 651.19L201.1 651.10L201.6 651.06L202.1 651.05L202.6 651.08L203.1 651.04L203.6 651.02L204.1 650.92L204.6 650.94L205.1 650.94L205.6 651.15L206.1 651.22L206.6 651.26L207.1 651.14L207.6 651.05L208.1 651.01L208.6 650.90L209.1 650.72L209.6 650.60L210.1 650.53L210.6 650.66L211.1 650.65L211.6 650.75L212.1 650.79L212.6 650.99L213.1 651.17L213.6 651.31L214.1 651.31L214.6 651.18L215.1 651.01L215.6 650.85L216.1 650.79L216.6 650.78L217.1 650.73L217.6 650.60L218.1 650.53L218.6 650.70L219.1 650.91L219.6 651.00L220.1 650.85L220.6 650.75L221.1 650.77L221.6 650.83L222.1 650.87L222.6 650.82L223.1 650.87L223.6 650.91L224.1 651.04L224.6 651.03L225.1 650.93L225.6 650.75L226.1 650.65L226.6 650.77L227.1 650.96L227.6 651.14L228.1 651.13L228.6 650.97L229.1 650.82L229.6 650.73L230.1 650.77L230.6 650.76L231.1 650.79L231.6 650.77L232.1 650.93L232.6 651.03L233.1 651.29L233.6 651.28L234.1 651.25L234.6 650.95L235.1 650.80L235.6 650.57L236.1 650.52L236.6 650.44L237.1 650.59L237.6 650.79L238.1 651.01L238.6 651.05L239.1 650.89L239.6 650.69L240.1 650.47L240.6 650.40L241.1 650.44L241.6 650.61L242.1 650.78L242.6 650.77L243.1 650.70L243.6 650.56L244.1 650.60L244.6 650.68L245.1 650.87L245.6 650.89L246.1 650.87L246.6 650.64L247.1 650.46L247.6 650.33L248.1 650.47L248.6 650.67L249.1 650.82L249.6 650.83L250.1 650.80L250.6 650.73L251.1 650.58L251.6 650.41L252.1 650.37L252.6 650.43L253.1 650.52L253.6 650.64L254.1 650.80L254.6 650.96L255.1 650.96L255.6 651.01L256.1 651.04L256.6 651.28L257.1 651.29L257.6 651.31L258.1 651.09L258.6 651.01L259.1 650.91L259.6 650.90L260.1 650.93L260.6 650.97L261.1 651.01L261.6 650.98L262.1 651.01L262.6 651.05L263.1 651.11L263.6 651.05L264.1 650.89L264.6 650.65L265.1 650.42L265.6 650.32L266.1 650.31L266.6 650.30L267.1 650.36L267.6 650.40L268.1 650.63L268.6 650.78L269.1 650.90L269.6 650.79L270.1 650.67L270.6 650.61L271.1 650.61L271.6 650.58L272.1 650.51L272.6 650.48L273.1 650.54L273.6 650.70L274.1 650.71L274.6 650.67L275.1 650.45L275.6 650.52L276.1 650.71L276.6 651.03L277.1 651.15L277.6 651.20L278.1 651.20L278.6 651.15L279.1 651.02L279.6 650.81L280.1 650.67L280.6 650.61L281.1 650.63L281.6 650.66L282.1 650.64L282.6 650.57L283.1 650.42L283.6 650.35L284.1 650.39L284.6 650.62L285.1 650.75L285.6 650.82L286.1 650.74L286.6 650.70L287.1 650.72L287.6 650.81L288.1 650.94L288.6 650.89L289.1 650.73L289.6 650.52L290.1 650.53L290.6 650.65L291.1 650.76L291.6 650.74L292.1 650.69L292.6 650.66L293.1 650.57L293.6 650.53L294.1 650.50L294.6 650.58L295.1 650.54L295.6 650.43L296.1 650.24L296.6 650.03L297.1 649.96L297.6 649.97L298.1 650.15L298.6 650.17L299.1 650.15L299.6 650.00L300.1 649.95L300.6 649.98L301.1 650.15L301.6 650.35L302.1 650.50L302.6 650.49L303.1 650.41L303.6 650.42L304.1 650.34L304.6 650.36L305.1 650.17L305.6 650.15L306.1 650.01L306.6 649.98L307.1 649.87L307.6 649.77L308.1 649.70L308.6 649.68L309.1 649.75L309.6 649.76L310.1 649.81L310.6 649.74L311.1 649.73L311.6 649.75L312.1 649.73L312.6 649.66L313.1 649.50L313.6 649.54L314.1 649.58L314.6 649.52L315.1 649.35L315.6 649.15L316.1 649.10L316.6 648.97L317.1 648.85L317.6 648.65L318.1 648.49L318.6 648.36L319.1 648.23L319.6 648.11L320.1 647.84L320.6 647.54L321.1 647.24L321.6 646.92L322.1 646.50L322.6 645.89L323.1 645.14L323.6 644.27L324.1 643.27L324.6 641.97L325.1 639.93L325.6 636.69L326.1 631.81L326.6 625.10L327.1 616.56L327.6 606.33L328.1 594.70L328.6 582.18L329.1 570.08L329.6 560.03L330.1 554.01L330.6 557.17L331.1 567.76L331.6 580.62L332.1 593.51L332.6 607.44L333.1 620.08L333.6 629.90L334.1 636.72L334.6 640.98L335.1 643.32L335.6 644.48L336.1 645.03L336.6 645.59L337.1 646.00L337.6 646.24L338.1 646.10L338.6 645.86L339.1 645.57L339.6 645.24L340.1 644.82L340.6 644.32L341.1 643.85L341.6 643.22L342.1 642.36L342.6 641.08L343.1 639.31L343.6 636.83L344.1 633.38L344.6 628.78L345.1 622.81L345.6 615.36L346.1 606.37L346.6 595.84L347.1 583.97L347.6 571.09L348.1 558.18L348.6 546.41L349.1 537.56L349.6 533.16L350.1 537.78L350.6 548.87L351.1 562.61L351.6 577.20L352.1 592.97L352.6 607.74L353.1 619.90L353.6 629.17L354.1 635.81L354.6 640.35L355.1 643.30L355.6 645.07L356.1 646.10L356.6 646.74L357.1 647.22L357.6 647.72L358.1 648.16L358.6 648.55L359.1 648.73L359.6 648.87L360.1 648.95L360.6 649.06L361.1 649.11L361.6 649.28L362.1 649.53L362.6 649.80L363.1 649.86L363.6 649.95L364.1 650.04L364.6 650.16L365.1 650.20L365.6 650.20L366.1 650.26L366.6 650.19L367.1 650.13L367.6 650.16L368.1 650.30L368.6 650.40L369.1 650.41L369.6 650.50L370.1 650.64L370.6 650.71L371.1 650.64L371.6 650.54L372.1 650.45L372.6 650.45L373.1 650.41L373.6 650.37L374.1 650.28L374.6 650.34L375.1 650.57L375.6 650.75L376.1 650.76L376.6 650.54L377.1 650.40L377.6 650.22L378.1 650.14L378.6 650.14L379.1 650.32L379.6 650.61L380.1 650.75L380.6 650.78L381.1 650.65L381.6 650.53L382.1 650.56L382.6 650.58L383.1 650.68L383.6 650.63L384.1 650.57L384.6 650.46L385.1 650.38L385.6 650.51L386.1 650.66L386.6 650.86L387.1 650.84L387.6 650.91L388.1 650.91L388.6 650.96L389.1 650.82L389.6 650.84L390.1 650.79L390.6 650.90L391.1 650.74L391.6 650.74L392.1 650.64L392.6 650.68L393.1 650.68L393.6 650.79L394.1 650.93L394.6 650.96L395.1 650.89L395.6 650.80L396.1 650.79L396.6 650.85L397.1 650.94L397.6 650.89L398.1 650.78L398.6 650.57L399.1 650.55L399.6 650.57L400.1 650.72L400.6 650.75L401.1 650.86L401.6 650.94L402.1 651.07L402.6 651.02L403.1 650.84L403.6 650.75L404.1 650.81L404.6 650.94L405.1 650.99L405.6 651.13L406.1 651.31L406.6 651.35L407.1 651.13L407.6 650.92L408.1 650.86L408.6 650.92L409.1 650.85L409.6 650.69L410.1 650.64L410.6 650.64L411.1 650.82L411.6 650.88L412.1 651.07L412.6 651.05L413.1 651.10L413.6 651.00L414.1 651.00L414.6 650.92L415.1 650.84L415.6 650.79L416.1 650.85L416.6 651.00L417.1 651.00L417.6 650.79L418.1 650.60L418.6 650.66L419.1 650.94L419.6 651.12L420.1 651.08L420.6 650.94L421.1 650.89L421.6 650.98L422.1 651.02L422.6 650.97L423.1 650.81L423.6 650.73L424.1 650.61L424.6 650.47L425.1 650.25L425.6 650.17L426.1 650.26L426.6 650.47L427.1 650.58L427.6 650.66L428.1 650.62L428.6 650.71L429.1 650.72L429.6 650.79L430.1 650.75L430.6 650.84L431.1 650.84L431.6 650.87L432.1 650.68L432.6 650.56L433.1 650.30L433.6 650.27L434.1 650.21L434.6 650.33L435.1 650.32L435.6 650.33L436.1 650.25L436.6 650.26L437.1 650.26L437.6 650.15L438.1 649.79L438.6 649.13L439.1 648.43L439.6 647.60L440.1 646.72L440.6 645.57L441.1 644.25L441.6 642.72L442.1 641.23L442.6 639.98L443.1 639.06L443.6 638.45L444.1 638.62L444.6 639.61L445.1 641.03L445.6 642.63L446.1 644.33L446.6 645.92L447.1 647.20L447.6 648.11L448.1 648.88L448.6 649.57L449.1 650.05L449.6 650.43L450.1 650.52L450.6 650.62L451.1 650.60L451.6 650.70L452.1 650.68L452.6 650.55L453.1 650.34L453.6 650.33L454.1 650.50L454.6 650.70L455.1 650.81L455.6 650.87L456.1 650.90L456.6 650.87L457.1 650.76L457.6 650.73L458.1 650.73L458.6 650.81L459.1 650.84L459.6 650.90L460.1 650.89L460.6 650.88L461.1 650.81L461.6 650.77L462.1 650.77L462.6 650.92L463.1 651.17L463.6 651.33L464.1 651.27L464.6 651.04L465.1 650.88L465.6 650.86L466.1 650.80L466.6 650.78L467.1 650.64L467.6 650.72L468.1 650.69L468.6 650.81L469.1 650.82L469.6 650.91L470.1 650.89L470.6 650.93L471.1 650.94L471.6 650.98L472.1 650.77L472.6 650.66L473.1 650.53L473.6 650.65L474.1 650.60L474.6 650.64L475.1 650.72L475.6 650.88L476.1 650.94L476.6 650.84L477.1 650.76L477.6 650.69L478.1 650.73L478.6 650.81L479.1 650.95L479.6 651.02L480.1 651.03L480.6 650.97L481.1 650.88L481.6 650.80L482.1 650.80L482.6 650.86L483.1 650.85L483.6 650.81L484.1 650.87L484.6 650.97L485.1 651.02L485.6 650.91L486.1 650.75L486.6 650.66L487.1 650.75L487.6 650.88L488.1 650.98L488.6 650.82L489.1 650.80L489.6 650.72L490.1 650.87L490.6 650.83L491.1 650.91L491.6 650.83L492.1 650.79L492.6 650.84L493.1 650.98L493.6 651.19L494.1 651.24L494.6 651.25L495.1 651.16L495.6 651.04L496.1 651.00L496.6 651.08L497.1 651.27L497.6 651.27L498.1 651.13L498.6 650.93L499.1 650.87L499.6 650.83L500.1 650.69L500.6 650.55L501.1 650.58L501.6 650.81L502.1 651.07L502.6 651.11L503.1 650.93L503.6 650.63L504.1 650.57L504.6 650.66L505.1 650.83L505.6 650.86L506.1 650.86L506.6 650.79L507.1 650.73L507.6 650.66L508.1 650.72L508.6 650.82L509.1 650.85L509.6 650.72L510.1 650.58L510.6 650.56L511.1 650.63L511.6 650.72L512.1 650.73L512.6 650.79L513.1 650.96L513.6 651.13L514.1 651.26L514.6 651.28L515.1 651.19L515.6 650.96L516.1 650.59L516.6 650.43L517.1 650.52L517.6 650.83L518.1 651.01L518.6 650.92L519.1 650.74L519.6 650.61L520.1 650.63L520.6 650.59L521.1 650.58L521.6 650.57L522.1 650.72L522.6 650.79L523.1 650.79L523.6 650.69L524.1 650.61L524.6 650.58L525.1 650.58L525.6 650.66L526.1 650.66L526.6 650.72L527.1 650.69L527.6 650.79L528.1 650.68L528.6 650.62L529.1 650.47L529.6 650.61L530.1 650.67L530.6 650.70L531.1 650.56L531.6 650.63L532.1 650.75L532.6 651.01L533.1 650.90L533.6 650.78L534.1 650.42L534.6 650.32L535.1 650.20L535.6 650.34L536.1 650.45L536.6 650.70L537.1 650.83L537.6 650.85L538.1 650.68L538.6 650.54L539.1 650.61L539.6 650.67L540.1 650.62L540.6 650.30L541.1 650.18L541.6 650.25L542.1 650.55L542.6 650.76L543.1 650.93L543.6 650.89L544.1 650.74L544.6 650.40L545.1 650.15L545.6 650.05L546.1 650.17L546.6 650.43L547.1 650.56L547.6 650.57L548.1 650.36L548.6 650.11L549.1 649.99L549.6 649.93L550.1 649.97L550.6 649.90L551.1 649.82L551.6 649.81L552.1 649.75L552.6 649.62L553.1 649.23L553.6 648.79L554.1 648.23L554.6 647.59L555.1 646.77L555.6 645.71L556.1 644.21L556.6 642.21L557.1 639.90L557.6 637.41L558.1 634.95L558.6 632.64L559.1 630.83L559.6 629.58L560.1 629.68L560.6 631.18L561.1 633.41L561.6 635.77L562.1 638.02L562.6 640.35L563.1 642.67L563.6 644.73L564.1 646.35L564.6 647.67L565.1 648.64L565.6 649.27L566.1 649.50L566.6 649.56L567.1 649.79L567.6 650.06L568.1 650.46L568.6 650.62L569.1 650.89L569.6 650.91L570.1 650.80L570.6 650.51L571.1 650.28L571.6 650.37L572.1 650.56L572.6 650.76L573.1 650.75L573.6 650.64L574.1 650.56L574.6 650.61L575.1 650.64L575.6 650.66L576.1 650.44L576.6 650.29L577.1 650.21L577.6 650.46L578.1 650.66L578.6 650.79L579.1 650.74L579.6 650.70L580.1 650.73L580.6 650.88L581.1 650.96L581.6 650.87L582.1 650.62L582.6 650.56L583.1 650.59L583.6 650.64L584.1 650.57L584.6 650.64L585.1 650.73L585.6 650.79L586.1 650.65L586.6 650.63L587.1 650.70L587.6 650.88L588.1 650.99L588.6 651.08L589.1 651.12L589.6 651.11L590.1 651.12L590.6 651.22L591.1 651.34L591.6 651.36L592.1 651.14L592.6 650.80L593.1 650.51L593.6 650.49L594.1 650.63L594.6 650.79L595.1 650.95L595.6 651.05L596.1 651.17L596.6 651.16L597.1 651.20L597.6 651.13L598.1 651.12L598.6 650.98L599.1 650.85L599.6 650.71L600.1 650.66L600.6 650.85L601.1 650.88L601.6 650.92L602.1 650.70L602.6 650.79L603.1 650.91L603.6 651.15L604.1 650.99L604.6 650.71L605.1 650.41L605.6 650.47L606.1 650.61L606.6 650.71L607.1 650.72L607.6 650.73L608.1 650.74L608.6 650.73L609.1 650.71L609.6 650.76L610.1 650.71L610.6 650.59L611.1 650.56L611.6 650.75L612.1 651.10L612.6 651.19L613.1 651.06L613.6 650.76L614.1 650.56L614.6 650.31L615.1 650.15L615.6 650.03L616.1 650.20L616.6 650.40L617.1 650.59L617.6 650.56L618.1 650.46L618.6 650.38L619.1 650.39L619.6 650.49L620.1 650.49L620.6 650.48L621.1 650.35L621.6 650.41L622.1 650.45L622.6 650.49L623.1 650.42L623.6 650.42L624.1 650.46L624.6 650.51L625.1 650.58L625.6 650.66L626.1 650.70L626.6 650.42L627.1 650.15L627.6 649.83L628.1 649.91L628.6 649.93L629.1 650.08L629.6 650.12L630.1 650.23L630.6 650.31L631.1 650.27L631.6 650.11L632.1 649.87L632.6 649.72L633.1 649.60L633.6 649.52L634.1 649.47L634.6 649.48L635.1 649.41L635.6 649.32L636.1 649.17L636.6 649.22L637.1 649.19L637.6 649.21L638.1 649.04L638.6 648.89L639.1 648.61L639.6 648.27L640.1 647.82L640.6 647.48L641.1 647.16L641.6 647.02L642.1 646.73L642.6 646.44L643.1 645.88L643.6 645.15L644.1 644.11L644.6 642.71L645.1 640.83L645.6 638.00L646.1 634.15L646.6 628.95L647.1 622.40L647.6 614.26L648.1 604.51L648.6 593.36L649.1 581.19L649.6 568.87L650.1 557.51L650.6 548.74L651.1 544.06L651.6 548.60L652.1 558.99L652.6 570.88L653.1 581.56L653.6 590.70L654.1 600.27L654.6 611.24L655.1 621.60L655.6 630.17L656.1 636.53L656.6 640.83L657.1 643.61L657.6 645.43L658.1 646.71L658.6 647.56L659.1 648.04L659.6 648.23L660.1 648.27L660.6 648.37L661.1 648.63L661.6 648.94L662.1 649.20L662.6 649.36L663.1 649.50L663.6 649.60L664.1 649.65L664.6 649.78L665.1 649.97L665.6 650.12L666.1 650.16L666.6 650.13L667.1 650.09L667.6 650.17L668.1 650.26L668.6 650.34L669.1 650.21L669.6 650.09L670.1 650.02L670.6 650.06L671.1 650.01L671.6 649.96L672.1 649.99L672.6 650.21L673.1 650.62L673.6 650.94L674.1 651.10L674.6 651.00L675.1 650.89L675.6 650.77L676.1 650.73L676.6 650.67L677.1 650.62L677.6 650.55L678.1 650.54L678.6 650.62L679.1 650.68L679.6 650.65L680.1 650.46L680.6 650.45L681.1 650.55L681.6 650.83L682.1 650.83L682.6 650.79L683.1 650.61L683.6 650.53L684.1 650.35L684.6 650.36L685.1 650.47L685.6 650.67L686.1 650.67L686.6 650.64L687.1 650.58L687.6 650.61L688.1 650.57L688.6 650.63L689.1 650.72L689.6 650.81L690.1 650.83L690.6 650.72L691.1 650.59L691.6 650.43L692.1 650.46L692.6 650.50L693.1 650.63L693.6 650.72L694.1 650.76L694.6 650.72L695.1 650.56L695.6 650.49L696.1 650.43L696.6 650.46L697.1 650.48L697.6 650.59L698.1 650.59L698.6 650.54L699.1 650.54L699.6 650.75L700.1 650.99L700.6 651.13L701.1 651.13L701.6 651.00L702.1 650.94L702.6 650.95L703.1 651.04L703.6 651.02L704.1 650.88L704.6 650.75L705.1 650.68L705.6 650.76L706.1 650.84L706.6 650.90L707.1 650.86L707.6 650.74L708.1 650.58L708.6 650.44L709.1 650.50L709.6 650.56L710.1 650.62L710.6 650.51L711.1 650.54L711.6 650.55L712.1 650.67L712.6 650.62L713.1 650.67L713.6 650.57L714.1 650.56L714.6 650.35L715.1 650.20L715.6 650.03L716.1 649.96L716.6 649.88L717.1 649.75L717.6 649.55L718.1 649.16L718.6 648.61L719.1 647.94L719.6 647.18L720.1 646.19L720.6 644.95L721.1 643.46L721.6 641.93L722.1 640.43L722.6 639.21L723.1 638.42L723.6 638.29L724.1 638.99L724.6 640.12L725.1 641.35L725.6 642.64L726.1 643.73L726.6 644.82L727.1 646.03L727.6 647.25L728.1 648.47L728.6 649.41L729.1 649.89L729.6 649.98L730.1 650.00L730.6 650.22L731.1 650.38L731.6 650.50L732.1 650.45L732.6 650.45L733.1 650.34L733.6 650.31L734.1 650.34L734.6 650.43L735.1 650.50L735.6 650.59L736.1 650.67L736.6 650.74L737.1 650.63L737.6 650.48L738.1 650.32L738.6 650.24L739.1 650.33L739.6 650.39L740.1 650.39L740.6 650.24L741.1 650.20L741.6 650.42L742.1 650.66L742.6 650.81L743.1 650.78L743.6 650.91L744.1 651.11L744.6 651.37L745.1 651.48L745.6 651.46L746.1 651.31L746.6 651.05L747.1 650.81L747.6 650.69L748.1 650.80L748.6 650.93L749.1 650.84L749.6 650.57L750.1 650.27L750.6 650.25L751.1 650.29L751.6 650.41L752.1 650.39L752.6 650.46L753.1 650.55L753.6 650.72L754.1 650.87L754.6 651.02L755.1 651.03L755.6 651.02L756.1 651.03L756.6 651.18L757.1 651.26L757.6 651.12L758.1 650.89L758.6 650.74L759.1 650.80L759.6 650.98L760.1 651.15L760.6 651.14L761.1 650.98L761.6 650.91L762.1 651.00L762.6 651.11L763.1 651.07L763.6 651.06L764.1 651.01L764.6 651.06L765.1 651.01L765.6 650.96L766.1 650.87L766.6 650.80L767.1 650.87L767.6 650.90L768.1 650.85L768.6 650.61L769.1 650.47L769.6 650.54L770.1 650.75L770.6 650.96L771.1 651.10L771.6 651.22L772.1 651.22L772.6 651.09L773.1 650.89L773.6 650.72L774.1 650.64L774.6 650.63L775.1 650.63L775.6 650.64L776.1 650.57L776.6 650.45L777.1 650.44L777.6 650.52L778.1 650.72L778.6 650.59L779.1 650.47L779.6 650.33L780.1 650.53L780.6 650.67L781.1 650.71L781.6 650.70L782.1 650.74L782.6 650.92L783.1 650.92L783.6 650.92L784.1 650.89L784.6 650.99L785.1 651.11L785.6 651.16L786.1 651.21L786.6 651.19L787.1 651.05L787.6 650.89L788.1 650.76L788.6 650.74L789.1 650.71L789.6 650.77L790.1 650.98L790.6 651.18L791.1 651.27L791.6 651.22L792.1 651.12L792.6 650.95L793.1 650.82L793.6 650.79L794.1 650.79L794.6 650.67L795.1 650.62L795.6 650.69L796.1 650.87L796.6 650.96L797.1 650.94L797.6 650.89L798.1 650.75L798.6 650.67L799.1 650.68L799.6 650.89L800.1 651.01L800.6 650.86L801.1 650.54L801.6 650.31L802.1 650.32L802.6 650.42L803.1 650.40L803.6 650.26L804.1 650.25L804.6 650.29L805.1 650.42L805.6 650.38L806.1 650.51L806.6 650.71L807.1 650.88L807.6 650.89L808.1 650.83L808.6 650.84L809.1 650.90L809.6 650.80L810.1 650.64L810.6 650.40L811.1 650.28L811.6 650.33L812.1 650.52L812.6 650.89L813.1 651.05L813.6 651.05L814.1 650.81L814.6 650.68L815.1 650.58L815.6 650.54L816.1 650.55L816.6 650.60L817.1 650.78L817.6 650.81L818.1 650.91L818.6 650.87L819.1 650.91L819.6 650.82L820.1 650.79L820.6 650.73L821.1 650.76L821.6 650.70L822.1 650.78L822.6 650.81L823.1 650.94L823.6 650.89L824.1 650.79L824.6 650.58L825.1 650.37L825.6 650.30L826.1 650.32L826.6 650.40L827.1 650.32L827.6 650.16L828.1 650.17L828.6 650.32L829.1 650.67L829.6 650.92L830.1 651.00L830.6 650.81L831.1 650.43L831.6 650.10L832.1 649.92L832.6 649.96L833.1 650.19L833.6 650.39L834.1 650.54L834.6 650.51L835.1 650.47L835.6 650.46L836.1 650.47L836.6 650.47L837.1 650.41L837.6 650.33L838.1 650.28L838.6 650.22L839.1 650.21L839.6 650.19L840.1 650.20L840.6 650.24L841.1 650.31L841.6 650.27L842.1 650.07L842.6 649.84L843.1 649.77L843.6 649.70L844.1 649.68L844.6 649.52L845.1 649.47L845.6 649.36L846.1 649.28L846.6 649.14L847.1 648.69L847.6 648.09L848.1 647.10L848.6 646.12L849.1 644.90L849.6 643.87L850.1 642.75L850.6 641.60L851.1 640.18L851.6 638.65L852.1 637.24L852.6 636.05L853.1 634.93L853.6 633.99L854.1 633.14L854.6 633.32L855.1 634.17L855.6 635.68L856.1 637.22L856.6 638.75L857.1 639.87L857.6 640.86L858.1 641.97L858.6 643.39L859.1 644.78L859.6 646.05L860.1 647.05L860.6 647.85L861.1 648.38L861.6 648.69L862.1 648.85L862.6 648.95L863.1 649.12L863.6 649.38L864.1 649.68L864.6 649.79L865.1 649.65L865.6 649.46L866.1 649.34L866.6 649.39L867.1 649.49L867.6 649.67L868.1 649.70L868.6 649.60L869.1 649.31L869.6 649.15L870.1 648.98L870.6 648.89L871.1 648.70L871.6 648.56L872.1 648.38L872.6 648.21L873.1 648.02L873.6 647.73L874.1 647.32L874.6 646.77L875.1 646.05L875.6 645.06L876.1 643.68L876.6 641.86L877.1 639.57L877.6 636.67L878.1 633.14L878.6 629.06L879.1 624.67L879.6 620.14L880.1 615.74L880.6 611.89L881.1 609.26L881.6 609.57L882.1 613.01L882.6 617.50L883.1 621.29L883.6 623.98L884.1 625.63L884.6 626.97L885.1 629.30L885.6 632.28L886.1 635.17L886.6 637.22L887.1 638.28L887.6 637.84L888.1 635.96L888.6 632.90L889.1 628.87L889.6 623.93L890.1 617.86L890.6 610.81L891.1 602.89L891.6 594.46L892.1 586.07L892.6 578.52L893.1 572.77L893.6 569.92L894.1 573.15L894.6 580.66L895.1 588.98L895.6 596.39L896.1 602.04L896.6 606.55L897.1 610.75L897.6 616.76L898.1 623.57L898.6 630.11L899.1 635.73L899.6 640.21L900.1 643.51L900.6 645.58L901.1 646.80L901.6 647.41L902.1 647.83L902.6 648.14L903.1 648.53L903.6 648.96L904.1 649.33L904.6 649.48L905.1 649.49L905.6 649.33L906.1 649.29L906.6 649.39L907.1 649.70L907.6 649.97L908.1 650.10L908.6 650.14L909.1 650.13L909.6 650.15L910.1 650.17L910.6 650.14L911.1 650.08L911.6 650.00L912.1 649.94L912.6 649.91L913.1 650.01L913.6 650.23L914.1 650.42L914.6 650.33L915.1 650.21L915.6 650.11L916.1 650.12L916.6 649.97L917.1 649.85L917.6 649.77L918.1 649.80L918.6 649.81L919.1 649.89L919.6 649.96L920.1 649.91L920.6 649.65L921.1 649.25L921.6 648.93L922.1 648.64L922.6 648.36L923.1 648.04L923.6 647.62L924.1 647.21L924.6 646.63L925.1 645.92L925.6 644.96L926.1 643.89L926.6 642.89L927.1 641.77L927.6 640.64L928.1 639.41L928.6 638.46L929.1 637.76L929.6 637.66L930.1 638.26L930.6 639.38L931.1 640.57L931.6 641.64L932.1 642.59L932.6 643.31L933.1 643.96L933.6 644.72L934.1 645.71L934.6 646.62L935.1 647.56L935.6 648.39L936.1 649.23L936.6 649.83L937.1 650.13L937.6 650.28L938.1 650.25L938.6 650.26L939.1 650.29L939.6 650.51L940.1 650.66L940.6 650.65L941.1 650.49L941.6 650.48L942.1 650.60L942.6 650.65L943.1 650.52L943.6 650.41L944.1 650.49L944.6 650.66L945.1 650.77L945.6 650.80L946.1 650.81L946.6 650.75L947.1 650.59L947.6 650.54L948.1 650.63L948.6 650.81L949.1 650.76L949.6 650.68L950.1 650.46L950.6 650.43L951.1 650.36L951.6 650.58L952.1 650.76L952.6 650.92L953.1 650.91L953.6 650.94L954.1 651.10L954.6 651.19L955.1 651.07L955.6 650.85L956.1 650.65L956.6 650.66L957.1 650.72L957.6 650.81L958.1 650.75L958.6 650.80L959.1 650.91L959.6 651.22L960.1 651.24L960.6 651.11L961.1 650.78L961.6 650.63L962.1 650.65L962.6 650.68L963.1 650.72L963.6 650.61L964.1 650.64L964.6 650.68L965.1 650.81L965.6 650.87L966.1 650.89L966.6 650.77L967.1 650.66L967.6 650.54L968.1 650.68L968.6 650.74L969.1 650.77L969.6 650.68L970.1 650.62L970.6 650.71L971.1 650.71L971.6 650.73L972.1 650.70L972.6 650.70L973.1 650.81L973.6 650.88L974.1 651.07L974.6 651.10L975.1 651.21L975.6 651.22L976.1 651.15L976.6 650.85L977.1 650.54L977.6 650.42L978.1 650.45L978.6 650.52L979.1 650.57L979.6 650.75L980.1 650.92L980.6 650.92L981.1 650.83L981.6 650.72L982.1 650.82L982.6 650.90L983.1 651.01L983.6 650.95L984.1 650.91L984.6 650.81L985.1 650.81L985.6 650.86L986.1 650.94L986.6 651.14L987.1 651.20L987.6 651.20L988.1 650.90L988.6 650.78L989.1 650.71L989.6 650.67L990.1 650.64L990.6 650.64L991.1 650.78L991.6 650.84L992.1 650.81L992.6 650.77L993.1 650.79L993.6 650.85L994.1 650.81L994.6 650.61L995.1 650.53L995.6 650.74L996.1 651.09L996.6 651.37L997.1 651.27L997.6 651.00L998.1 650.67L998.6 650.65L999.1 650.74L999.6 650.91L1000.1 650.81L1000.6 650.76L1001.1 650.78L1001.6 650.99L1002.1 651.10L1002.6 650.96L1003.1 650.76L1003.6 650.58L1004.1 650.55L1004.6 650.61L1005.1 650.70L1005.6 650.88L1006.1 650.93L1006.6 650.96L1007.1 650.90L1007.6 650.87L1008.1 650.84L1008.6 650.78L1009.1 650.73L1009.6 650.62L1010.1 650.61L1010.6 650.60L1011.1 650.58L1011.6 650.47L1012.1 650.46L1012.6 650.58L1013.1 650.74L1013.6 650.86L1014.1 650.89L1014.6 650.95L1015.1 651.00L1015.6 650.93L1016.1 650.74L1016.6 650.57L1017.1 650.57L1017.6 650.82L1018.1 650.99L1018.6 651.08L1019.1 650.95L1019.6 650.97L1020.1 651.10L1020.6 651.20L1021.1 651.13L1021.6 650.96L1022.1 650.87L1022.6 650.83L1023.1 650.83L1023.6 650.90L1024.1 651.02L1024.6 651.02L1025.1 650.96L1025.6 650.85L1026.1 650.83L1026.6 650.85L1027.1 650.84L1027.6 650.82L1028.1 650.73L1028.6 650.71L1029.1 650.61L1029.6 650.59L1030.1 650.51L1030.6 650.61L1031.1 650.67L1031.6 650.71L1032.1 650.61L1032.6 650.39L1033.1 650.26L1033.6 650.20L1034.1 650.41L1034.6 650.59L1035.1 650.61L1035.6 650.58L1036.1 650.52L1036.6 650.65L1037.1 650.71L1037.6 650.76L1038.1 650.79L1038.6 650.73L1039.1 650.75L1039.6 650.67L1040.1 650.63L1040.6 650.53L1041.1 650.48L1041.6 650.61L1042.1 650.74L1042.6 650.84L1043.1 650.83L1043.6 650.77L1044.1 650.71L1044.6 650.63L1045.1 650.68L1045.6 650.82L1046.1 650.85L1046.6 650.76L1047.1 650.52L1047.6 650.48L1048.1 650.51L1048.6 650.62L1049.1 650.61L1049.6 650.53L1050.1 650.57L1050.6 650.54L1051.1 650.55L1051.6 650.36L1052.1 650.27L1052.6 650.24L1053.1 650.33L1053.6 650.49L1054.1 650.51L1054.6 650.34L1055.1 650.16L1055.6 650.10L1056.1 650.23L1056.6 650.29L1057.1 650.31L1057.6 650.23L1058.1 650.21L1058.6 650.13L1059.1 650.17L1059.6 650.10L1060.1 650.09L1060.6 650.04L1061.1 649.99L1061.6 649.86L1062.1 649.54L1062.6 649.25L1063.1 648.96L1063.6 648.77L1064.1 648.52L1064.6 648.19L1065.1 647.80L1065.6 647.31L1066.1 646.82L1066.6 646.09L1067.1 645.23L1067.6 644.15L1068.1 643.12L1068.6 642.10L1069.1 641.08L1069.6 639.94L1070.1 638.87L1070.6 638.01L1071.1 637.47L1071.6 637.32L1072.1 637.66L1072.6 638.42L1073.1 639.33L1073.6 640.40L1074.1 641.34L1074.6 642.15L1075.1 642.88L1075.6 643.59L1076.1 644.43L1076.6 645.36L1077.1 646.37L1077.6 647.32L1078.1 648.02L1078.6 648.54L1079.1 649.05L1079.6 649.46L1080.1 649.69L1080.6 649.67L1081.1 649.75L1081.6 649.91L1082.1 650.18L1082.6 650.28L1083.1 650.33L1083.6 650.34L1084.1 650.38L1084.6 650.46L1085.1 650.51L1085.6 650.61L1086.1 650.58L1086.6 650.47L1087.1 650.28L1087.6 650.10L1088.1 649.97L1088.6 649.87L1089.1 649.77L1089.6 649.53L1090.1 649.17L1090.6 648.78L1091.1 648.33L1091.6 647.83L1092.1 647.11L1092.6 646.38L1093.1 645.45L1093.6 644.55L1094.1 643.56L1094.6 642.70L1095.1 641.95L1095.6 641.27L1096.1 640.91L1096.6 641.06L1097.1 641.90L1097.6 642.84L1098.1 643.89L1098.6 644.70L1099.1 645.36L1099.6 645.80L1100.1 646.06L1100.6 646.37L1101.1 646.91L1101.6 647.55L1102.1 648.35L1102.6 648.90L1103.1 649.36L1103.6 649.61L1104.1 649.90L1104.6 650.23L1105.1 650.42L1105.6 650.61L1106.1 650.65L1106.6 650.78L1107.1 650.75L1107.6 650.85L1108.1 650.88L1108.6 650.97L1109.1 650.86L1109.6 650.69L1110.1 650.48L1110.6 650.47L1111.1 650.58L1111.6 650.71L1112.1 650.72L1112.6 650.67L1113.1 650.71L1113.6 650.71L1114.1 650.72L1114.6 650.61L1115.1 650.62L1115.6 650.69L1116.1 650.92L1116.6 651.03L1117.1 650.98L1117.6 650.89L1118.1 650.80L1118.6 650.69L1119.1 650.47L1119.6 650.36L1120.1 650.46L1120.6 650.66L1121.1 650.82L1121.6 650.80L1122.1 650.68L1122.6 650.54L1123.1 650.51L1123.6 650.60L1124.1 650.63L1124.6 650.60L1125.1 650.56L1125.6 650.70L1126.1 650.85L1126.6 650.98L1127.1 650.95L1127.6 650.79L1128.1 650.57L1128.6 650.23L1129.1 650.01L1129.6 649.83L1130.1 649.93L1130.6 650.08L1131.1 650.10L1131.6 649.78L1132.1 649.31L1132.6 649.03L1133.1 649.06L1133.6 649.09L1134.1 648.99L1134.6 648.62L1135.1 648.40L1135.6 648.16L1136.1 648.10L1136.6 647.79L1137.1 647.40L1137.6 646.90L1138.1 646.58L1138.6 646.51L1139.1 646.68L1139.6 646.75L1140.1 646.71L1140.6 646.53L1141.1 646.57L1141.6 646.66L1142.1 646.93L1142.6 647.15L1143.1 647.42L1143.6 647.60L1144.1 647.96L1144.6 648.44L1145.1 648.97L1145.6 649.16L1146.1 649.16L1146.6 649.18L1147.1 649.40L1147.6 649.76L1148.1 650.04L1148.6 650.26L1149.1 650.27L1149.6 650.31L1150.1 650.23L1150.6 650.26L1151.1 650.26L1151.6 650.36L1152.1 650.57L1152.6 650.67L1153.1 650.68L1153.6 650.36L1154.1 650.15L1154.6 650.09L1155.1 650.14L1155.6 650.24L1156.1 650.04L1156.6 649.98L1157.1 649.78L1157.6 649.71L1158.1 649.54L1158.6 649.46L1159.1 649.31L1159.6 649.18L1160.1 648.96L1160.6 648.90L1161.1 648.77L1161.6 648.71L1162.1 648.46L1162.6 648.30L1163.1 648.09L1163.6 647.95L1164.1 647.78L1164.6 647.69L1165.1 647.64L1165.6 647.69L1166.1 647.76L1166.6 647.96L1167.1 648.06L1167.6 648.25L1168.1 648.39L1168.6 648.74L1169.1 649.05L1169.6 649.50L1170.1 649.80L1170.6 650.04L1171.1 650.00L1171.6 649.91L1172.1 649.91L1172.6 650.17L1173.1 650.55L1173.6 650.82L1174.1 650.92L1174.6 650.84L1175.1 650.92L1175.6 651.01L1176.1 651.14L1176.6 650.97L1177.1 650.70L1177.6 650.49L1178.1 650.51L1178.6 650.69L1179.1 650.85L1179.6 650.97L1180.1 651.00L1180.6 651.00L1181.1 650.93L1181.6 650.81L1182.1 650.75L1182.6 650.83L1183.1 651.00L1183.6 651.18L1184.1 651.13L1184.6 651.05L1185.1 650.95L1185.6 650.89L1186.1 650.77L1186.6 650.55L1187.1 650.60L1187.6 650.77L1188.1 651.19L1188.6 651.26L1189.1 651.31L1189.6 651.13L1190.1 651.17L1190.6 651.13L1191.1 651.15L1191.6 650.99L1192.1 650.85L1192.6 650.78L1193.1 650.87L1193.6 650.93L1194.1 650.94L1194.6 650.92L1195.1 650.96L1195.6 650.92L1196.1 650.89L1196.6 650.79L1197.1 650.67L1197.6 650.55L1198.1 650.41L1198.6 650.43L1199.1 650.57L1199.6 650.80L1200.1 650.88L1200.6 650.80L1201.1 650.78L1201.6 650.89L1202.1 651.04L1202.6 650.98L1203.1 650.92L1203.6 650.90L1204.1 651.12L1204.6 651.29L1205.1 651.44L1205.6 651.33L1206.1 651.12L1206.6 650.88L1207.1 650.86L1207.6 650.78L1208.1 650.73L1208.6 650.63L1209.1 650.83L1209.6 651.07L1210.1 651.31L1210.6 651.31L1211.1 651.17L1211.6 650.92L1212.1 650.71L1212.6 650.53L1213.1 650.40L1213.6 650.24L1214.1 650.32L1214.6 650.52L1215.1 650.80L1215.6 650.73L1216.1 650.54L1216.6 650.49L1217.1 650.62L1217.6 650.78L1218.1 650.65L1218.6 650.63L1219.1 650.72L1219.6 650.91L1220.1 650.90L1220.6 650.71L1221.1 650.62L1221.6 650.59L1222.1 650.81L1222.6 650.97L1223.1 651.17L1223.6 651.10L1224.1 651.10L1224.6 651.05L1225.1 651.07L1225.6 650.91L1226.1 650.79L1226.6 650.65L1227.1 650.67L1227.6 650.63L1228.1 650.75L1228.6 650.66L1229.1 650.66L1229.6 650.45L1230.1 650.56L1230.6 650.67L1231.1 650.79L1231.6 650.71L1232.1 650.61L1232.6 650.73L1233.1 650.97L1233.6 651.11L1234.1 650.96L1234.6 650.75L1235.1 650.68L1235.6 650.79L1236.1 650.87L1236.6 650.92L1237.1 650.95L1237.6 651.00L1238.1 651.03L1238.6 650.96L1239.1 650.87L1239.6 650.81L1240.1 650.88L1240.6 651.06L1241.1 651.13L1241.6 651.12L1242.1 650.92L1242.6 650.92L1243.1 650.94L1243.6 651.12" fill="none" stroke="#000" stroke-width="2.4" stroke-linejoin="round" stroke-linecap="round"/>
<path clip-path="url(#c3)" d="M95.1 873.30L95.6 873.12L96.1 872.85L96.6 872.75L97.1 872.89L97.6 873.01L98.1 872.97L98.6 872.92L99.1 872.94L99.6 873.10L100.1 873.13L100.6 873.25L101.1 873.29L101.6 873.31L102.1 873.22L102.6 873.18L103.1 873.21L103.6 873.26L104.1 873.09L104.6 872.92L105.1 872.81L105.6 873.00L106.1 873.24L106.6 873.42L107.1 873.43L107.6 873.38L108.1 873.35L108.6 873.32L109.1 873.34L109.6 873.29L110.1 873.20L110.6 872.96L111.1 872.77L111.6 872.70L112.1 872.76L112.6 872.79L113.1 872.80L113.6 872.88L114.1 873.06L114.6 873.17L115.1 873.20L115.6 873.15L116.1 873.22L116.6 873.36L117.1 873.41L117.6 873.39L118.1 873.22L118.6 873.13L119.1 873.05L119.6 873.05L120.1 873.07L120.6 873.07L121.1 873.03L121.6 872.98L122.1 872.89L122.6 872.87L123.1 872.80L123.6 872.85L124.1 872.80L124.6 872.86L125.1 872.85L125.6 872.94L126.1 872.93L126.6 872.95L127.1 873.03L127.6 873.09L128.1 873.14L128.6 873.05L129.1 873.07L129.6 872.99L130.1 873.03L130.6 873.04L131.1 873.24L131.6 873.28L132.1 873.25L132.6 873.12L133.1 873.13L133.6 873.21L134.1 873.22L134.6 873.18L135.1 873.08L135.6 873.03L136.1 872.94L136.6 872.96L137.1 873.10L137.6 873.28L138.1 873.39L138.6 873.37L139.1 873.30L139.6 873.27L140.1 873.27L140.6 873.35L141.1 873.30L141.6 873.30L142.1 873.22L142.6 873.24L143.1 873.25L143.6 873.24L144.1 873.19L144.6 873.16L145.1 873.23L145.6 873.31L146.1 873.29L146.6 873.12L147.1 872.93L147.6 872.78L148.1 872.84L148.6 872.97L149.1 873.05L149.6 872.93L150.1 872.78L150.6 872.82L151.1 873.01L151.6 873.23L152.1 873.28L152.6 873.16L153.1 873.10L153.6 873.04L154.1 873.11L154.6 873.17L155.1 873.26L155.6 873.31L156.1 873.20L156.6 873.15L157.1 873.12L157.6 873.27L158.1 873.36L158.6 873.44L159.1 873.32L159.6 873.19L160.1 872.97L160.6 872.99L161.1 872.99L161.6 873.19L162.1 873.20L162.6 873.24L163.1 873.13L163.6 873.15L164.1 873.14L164.6 873.15L165.1 873.05L165.6 872.95L166.1 872.87L166.6 872.78L167.1 872.69L167.6 872.74L168.1 872.86L168.6 873.03L169.1 873.03L169.6 873.05L170.1 873.11L170.6 873.21L171.1 873.34L171.6 873.38L172.1 873.44L172.6 873.36L173.1 873.40L173.6 873.35L174.1 873.40L174.6 873.36L175.1 873.31L175.6 873.20L176.1 873.09L176.6 873.13L177.1 873.16L177.6 873.10L178.1 873.06L178.6 873.00L179.1 873.06L179.6 873.07L180.1 873.17L180.6 873.19L181.1 873.08L181.6 872.96L182.1 872.81L182.6 872.87L183.1 872.83L183.6 873.04L184.1 873.16L184.6 873.45L185.1 873.43L185.6 873.42L186.1 873.25L186.6 873.21L187.1 873.29L187.6 873.36L188.1 873.50L188.6 873.37L189.1 873.25L189.6 873.00L190.1 872.91L190.6 872.99L191.1 873.11L191.6 873.31L192.1 873.37L192.6 873.38L193.1 873.28L193.6 872.98L194.1 872.66L194.6 872.41L195.1 872.38L195.6 872.56L196.1 872.77L196.6 873.08L197.1 873.15L197.6 873.07L198.1 872.78L198.6 872.72L199.1 872.83L199.6 873.09L200.1 873.20L200.6 873.19L201.1 873.16L201.6 873.12L202.1 873.07L202.6 872.97L203.1 872.98L203.6 873.12L204.1 873.22L204.6 873.27L205.1 873.24L205.6 873.22L206.1 873.23L206.6 873.28L207.1 873.37L207.6 873.33L208.1 873.17L208.6 872.94L209.1 872.75L209.6 872.62L210.1 872.57L210.6 872.64L211.1 872.81L211.6 872.90L212.1 872.90L212.6 872.81L213.1 872.78L213.6 872.83L214.1 872.89L214.6 873.02L215.1 872.97L215.6 872.99L216.1 872.84L216.6 872.95L217.1 873.01L217.6 873.14L218.1 873.13L218.6 873.15L219.1 873.28L219.6 873.46L220.1 873.52L220.6 873.52L221.1 873.38L221.6 873.33L222.1 873.07L222.6 872.92L223.1 872.69L223.6 872.73L224.1 872.67L224.6 872.83L225.1 872.95L225.6 873.30L226.1 873.47L226.6 873.56L227.1 873.44L227.6 873.31L228.1 873.11L228.6 872.88L229.1 872.68L229.6 872.70L230.1 872.80L230.6 872.95L231.1 872.90L231.6 872.95L232.1 873.01L232.6 873.12L233.1 873.03L233.6 872.95L234.1 872.99L234.6 873.18L235.1 873.30L235.6 873.28L236.1 873.22L236.6 873.14L237.1 873.13L237.6 873.15L238.1 873.32L238.6 873.50L239.1 873.55L239.6 873.48L240.1 873.30L240.6 873.17L241.1 873.02L241.6 872.93L242.1 872.88L242.6 872.78L243.1 872.84L243.6 872.92L244.1 873.18L244.6 873.19L245.1 873.10L245.6 872.88L246.1 872.73L246.6 872.66L247.1 872.59L247.6 872.69L248.1 872.87L248.6 873.19L249.1 873.28L249.6 873.15L250.1 872.91L250.6 872.88L251.1 873.10L251.6 873.28L252.1 873.33L252.6 873.31L253.1 873.35L253.6 873.43L254.1 873.30L254.6 873.13L255.1 872.97L255.6 873.04L256.1 873.18L256.6 873.22L257.1 873.18L257.6 873.04L258.1 872.96L258.6 872.90L259.1 873.03L259.6 873.14L260.1 873.18L260.6 873.00L261.1 872.85L261.6 872.76L262.1 872.83L262.6 872.91L263.1 872.98L263.6 872.98L264.1 872.84L264.6 872.70L265.1 872.65L265.6 872.74L266.1 872.82L266.6 872.74L267.1 872.72L267.6 872.73L268.1 872.77L268.6 872.73L269.1 872.57L269.6 872.49L270.1 872.26L270.6 872.13L271.1 872.11L271.6 872.33L272.1 872.58L272.6 872.64L273.1 872.45L273.6 872.33L274.1 872.31L274.6 872.42L275.1 872.42L275.6 872.40L276.1 872.32L276.6 872.28L277.1 872.26L277.6 872.28L278.1 872.17L278.6 872.07L279.1 871.98L279.6 871.95L280.1 871.83L280.6 871.52L281.1 871.24L281.6 870.97L282.1 870.85L282.6 870.72L283.1 870.61L283.6 870.43L284.1 869.97L284.6 869.33L285.1 868.41L285.6 867.35L286.1 865.93L286.6 864.21L287.1 862.14L287.6 859.87L288.1 857.26L288.6 854.26L289.1 850.68L289.6 846.80L290.1 843.01L290.6 840.10L291.1 838.80L291.6 839.43L292.1 841.72L292.6 844.90L293.1 848.57L293.6 852.36L294.1 855.98L294.6 859.13L295.1 861.70L295.6 863.82L296.1 865.49L296.6 866.77L297.1 867.73L297.6 868.58L298.1 869.26L298.6 869.84L299.1 870.16L299.6 870.44L300.1 870.72L300.6 871.03L301.1 871.14L301.6 871.16L302.1 871.13L302.6 871.35L303.1 871.51L303.6 871.73L304.1 871.76L304.6 871.84L305.1 871.77L305.6 871.74L306.1 871.77L306.6 871.85L307.1 871.81L307.6 871.72L308.1 871.83L308.6 872.13L309.1 872.40L309.6 872.32L310.1 872.13L310.6 872.05L311.1 872.10L311.6 872.24L312.1 872.19L312.6 872.27L313.1 872.34L313.6 872.56L314.1 872.62L314.6 872.59L315.1 872.50L315.6 872.37L316.1 872.27L316.6 872.18L317.1 872.26L317.6 872.38L318.1 872.57L318.6 872.66L319.1 872.67L319.6 872.52L320.1 872.26L320.6 871.87L321.1 871.62L321.6 871.55L322.1 871.62L322.6 871.74L323.1 871.77L323.6 871.80L324.1 871.57L324.6 871.22L325.1 870.79L325.6 870.45L326.1 870.22L326.6 869.91L327.1 869.36L327.6 867.90L328.1 864.84L328.6 859.06L329.1 848.76L329.6 832.33L330.1 808.87L330.6 780.70L331.1 753.44L331.6 735.60L332.1 732.48L332.6 741.49L333.1 757.65L333.6 778.32L334.1 801.26L334.6 822.79L335.1 840.27L335.6 852.71L336.1 860.60L336.6 865.10L337.1 867.52L337.6 868.85L338.1 869.63L338.6 870.06L339.1 870.32L339.6 870.46L340.1 870.72L340.6 871.07L341.1 871.51L341.6 871.71L342.1 871.56L342.6 871.28L343.1 871.19L343.6 871.30L344.1 871.26L344.6 871.16L345.1 871.06L345.6 871.17L346.1 871.22L346.6 871.24L347.1 871.13L347.6 870.96L348.1 870.75L348.6 870.58L349.1 870.32L349.6 869.78L350.1 868.69L350.6 866.57L351.1 862.42L351.6 854.69L352.1 842.23L352.6 824.67L353.1 803.73L353.6 783.55L354.1 770.46L354.6 768.23L355.1 774.91L355.6 786.53L356.1 801.43L356.6 818.15L357.1 834.30L357.6 847.58L358.1 857.20L358.6 863.25L359.1 866.76L359.6 868.70L360.1 869.83L360.6 870.55L361.1 870.99L361.6 871.27L362.1 871.38L362.6 871.49L363.1 871.62L363.6 871.98L364.1 872.19L364.6 872.33L365.1 872.14L365.6 871.99L366.1 872.07L366.6 872.27L367.1 872.40L367.6 872.15L368.1 872.03L368.6 872.21L369.1 872.66L369.6 872.96L370.1 873.00L370.6 872.95L371.1 872.96L371.6 872.96L372.1 872.90L372.6 872.84L373.1 872.79L373.6 872.72L374.1 872.66L374.6 872.65L375.1 872.76L375.6 872.85L376.1 872.89L376.6 872.83L377.1 872.72L377.6 872.77L378.1 872.82L378.6 872.97L379.1 873.00L379.6 873.14L380.1 873.18L380.6 873.11L381.1 872.92L381.6 872.79L382.1 872.88L382.6 873.05L383.1 873.14L383.6 873.06L384.1 872.86L384.6 872.62L385.1 872.43L385.6 872.44L386.1 872.61L386.6 872.77L387.1 872.76L387.6 872.76L388.1 872.77L388.6 872.83L389.1 872.76L389.6 872.76L390.1 872.77L390.6 872.78L391.1 872.60L391.6 872.29L392.1 872.01L392.6 871.83L393.1 871.75L393.6 871.58L394.1 871.17L394.6 870.60L395.1 870.04L395.6 869.60L396.1 869.19L396.6 868.69L397.1 868.14L397.6 867.57L398.1 867.06L398.6 866.48L399.1 866.09L399.6 865.85L400.1 866.07L400.6 866.36L401.1 866.85L401.6 867.27L402.1 867.86L402.6 868.43L403.1 869.16L403.6 869.80L404.1 870.49L404.6 870.92L405.1 871.31L405.6 871.54L406.1 871.77L406.6 871.96L407.1 872.16L407.6 872.31L408.1 872.35L408.6 872.51L409.1 872.78L409.6 873.11L410.1 873.19L410.6 873.11L411.1 873.01L411.6 873.10L412.1 873.28L412.6 873.44L413.1 873.31L413.6 872.99L414.1 872.68L414.6 872.63L415.1 872.78L415.6 872.88L416.1 872.98L416.6 873.00L417.1 873.05L417.6 872.96L418.1 872.83L418.6 872.70L419.1 872.67L419.6 872.70L420.1 872.83L420.6 872.98L421.1 873.08L421.6 872.97L422.1 872.87L422.6 872.82L423.1 872.95L423.6 873.11L424.1 873.24L424.6 873.34L425.1 873.29L425.6 873.25L426.1 873.07L426.6 873.04L427.1 873.05L427.6 873.16L428.1 873.13L428.6 872.98L429.1 872.89L429.6 872.96L430.1 872.95L430.6 872.85L431.1 872.66L431.6 872.76L432.1 872.85L432.6 872.97L433.1 872.95L433.6 873.00L434.1 873.00L434.6 872.99L435.1 872.95L435.6 872.90L436.1 872.70L436.6 872.47L437.1 872.24L437.6 872.35L438.1 872.43L438.6 872.68L439.1 872.70L439.6 872.76L440.1 872.64L440.6 872.60L441.1 872.47L441.6 872.28L442.1 872.03L442.6 871.52L443.1 870.56L443.6 868.63L444.1 865.84L444.6 862.24L445.1 858.60L445.6 855.79L446.1 854.80L446.6 855.58L447.1 857.33L447.6 859.40L448.1 861.75L448.6 864.29L449.1 866.78L449.6 868.91L450.1 870.52L450.6 871.49L451.1 871.99L451.6 872.15L452.1 872.29L452.6 872.31L453.1 872.29L453.6 872.35L454.1 872.58L454.6 872.93L455.1 873.09L455.6 873.02L456.1 872.97L456.6 873.06L457.1 873.31L457.6 873.33L458.1 873.18L458.6 872.93L459.1 872.79L459.6 872.68L460.1 872.61L460.6 872.58L461.1 872.67L461.6 872.78L462.1 872.91L462.6 872.96L463.1 873.10L463.6 873.23L464.1 873.48L464.6 873.63L465.1 873.65L465.6 873.44L466.1 873.32L466.6 873.25L467.1 873.33L467.6 873.23L468.1 873.22L468.6 873.22L469.1 873.32L469.6 873.42L470.1 873.47L470.6 873.44L471.1 873.33L471.6 873.27L472.1 873.28L472.6 873.28L473.1 873.22L473.6 873.15L474.1 873.11L474.6 873.07L475.1 873.08L475.6 872.98L476.1 872.93L476.6 872.85L477.1 872.99L477.6 873.08L478.1 873.06L478.6 873.00L479.1 873.07L479.6 873.29L480.1 873.33L480.6 873.23L481.1 873.12L481.6 873.04L482.1 873.04L482.6 872.99L483.1 873.05L483.6 873.12L484.1 873.12L484.6 873.06L485.1 872.93L485.6 872.97L486.1 873.04L486.6 873.15L487.1 873.20L487.6 873.24L488.1 873.25L488.6 873.21L489.1 873.20L489.6 873.24L490.1 873.22L490.6 873.26L491.1 873.22L491.6 873.35L492.1 873.42L492.6 873.48L493.1 873.40L493.6 873.28L494.1 873.26L494.6 873.20L495.1 873.18L495.6 873.09L496.1 873.09L496.6 873.08L497.1 873.10L497.6 873.09L498.1 873.02L498.6 872.94L499.1 872.73L499.6 872.67L500.1 872.59L500.6 872.80L501.1 872.90L501.6 873.04L502.1 873.05L502.6 873.11L503.1 873.09L503.6 872.97L504.1 872.82L504.6 872.77L505.1 872.83L505.6 873.05L506.1 873.12L506.6 873.10L507.1 872.89L507.6 872.84L508.1 872.90L508.6 872.97L509.1 873.08L509.6 873.08L510.1 873.20L510.6 873.22L511.1 873.22L511.6 873.14L512.1 872.95L512.6 872.91L513.1 872.83L513.6 872.89L514.1 872.78L514.6 872.86L515.1 873.02L515.6 873.29L516.1 873.47L516.6 873.51L517.1 873.45L517.6 873.23L518.1 872.98L518.6 872.90L519.1 872.95L519.6 873.15L520.1 873.16L520.6 873.11L521.1 872.93L521.6 872.86L522.1 872.90L522.6 873.07L523.1 873.27L523.6 873.33L524.1 873.33L524.6 873.23L525.1 873.10L525.6 873.07L526.1 873.07L526.6 873.16L527.1 873.13L527.6 873.04L528.1 873.04L528.6 873.10L529.1 873.32L529.6 873.33L530.1 873.25L530.6 873.07L531.1 873.08L531.6 873.21L532.1 873.40L532.6 873.52L533.1 873.57L533.6 873.39L534.1 873.10L534.6 872.79L535.1 872.67L535.6 872.66L536.1 872.73L536.6 872.81L537.1 872.83L537.6 872.92L538.1 872.90L538.6 872.91L539.1 872.82L539.6 872.87L540.1 872.98L540.6 872.96L541.1 872.81L541.6 872.54L542.1 872.54L542.6 872.54L543.1 872.68L543.6 872.66L544.1 872.75L544.6 872.85L545.1 873.01L545.6 873.08L546.1 873.09L546.6 873.08L547.1 873.19L547.6 873.30L548.1 873.32L548.6 873.08L549.1 872.89L549.6 872.72L550.1 872.83L550.6 872.93L551.1 873.13L551.6 873.18L552.1 873.21L552.6 873.04L553.1 872.91L553.6 872.84L554.1 873.05L554.6 873.23L555.1 873.28L555.6 873.11L556.1 872.82L556.6 872.63L557.1 872.62L557.6 872.90L558.1 873.15L558.6 873.22L559.1 873.08L559.6 872.84L560.1 872.66L560.6 872.46L561.1 872.13L561.6 871.44L562.1 870.05L562.6 867.78L563.1 864.11L563.6 859.20L564.1 853.39L564.6 848.17L565.1 845.21L565.6 845.35L566.1 847.54L566.6 850.16L567.1 852.69L567.6 855.39L568.1 858.66L568.6 862.23L569.1 865.51L569.6 868.21L570.1 870.01L570.6 871.03L571.1 871.51L571.6 871.83L572.1 872.19L572.6 872.52L573.1 872.73L573.6 872.82L574.1 872.87L574.6 872.93L575.1 872.96L575.6 872.92L576.1 872.83L576.6 872.76L577.1 872.75L577.6 872.80L578.1 872.87L578.6 872.88L579.1 872.97L579.6 873.15L580.1 873.42L580.6 873.44L581.1 873.22L581.6 872.87L582.1 872.72L582.6 872.82L583.1 873.00L583.6 873.15L584.1 873.12L584.6 873.10L585.1 873.01L585.6 873.09L586.1 873.14L586.6 873.14L587.1 873.01L587.6 872.93L588.1 873.06L588.6 873.28L589.1 873.37L589.6 873.26L590.1 873.09L590.6 872.98L591.1 873.00L591.6 872.98L592.1 873.10L592.6 873.19L593.1 873.34L593.6 873.30L594.1 873.12L594.6 872.95L595.1 872.77L595.6 872.74L596.1 872.69L596.6 872.91L597.1 873.14L597.6 873.28L598.1 873.14L598.6 872.82L599.1 872.65L599.6 872.63L600.1 872.82L600.6 873.00L601.1 873.07L601.6 872.92L602.1 872.86L602.6 872.84L603.1 872.98L603.6 872.97L604.1 873.02L604.6 872.92L605.1 872.85L605.6 872.75L606.1 872.78L606.6 872.93L607.1 873.06L607.6 873.20L608.1 873.12L608.6 873.02L609.1 872.94L609.6 872.89L610.1 872.91L610.6 872.90L611.1 872.99L611.6 873.02L612.1 873.01L612.6 873.00L613.1 872.98L613.6 873.11L614.1 873.23L614.6 873.38L615.1 873.40L615.6 873.27L616.1 873.00L616.6 872.77L617.1 872.72L617.6 872.87L618.1 872.85L618.6 872.65L619.1 872.40L619.6 872.42L620.1 872.63L620.6 872.88L621.1 872.93L621.6 872.89L622.1 872.82L622.6 872.82L623.1 872.76L623.6 872.72L624.1 872.78L624.6 872.85L625.1 872.83L625.6 872.71L626.1 872.76L626.6 872.94L627.1 873.21L627.6 873.25L628.1 873.20L628.6 872.93L629.1 872.89L629.6 872.80L630.1 872.87L630.6 872.81L631.1 872.88L631.6 872.96L632.1 872.96L632.6 872.93L633.1 872.96L633.6 873.07L634.1 873.15L634.6 873.04L635.1 873.00L635.6 873.08L636.1 873.18L636.6 873.25L637.1 873.15L637.6 873.16L638.1 873.06L638.6 872.96L639.1 872.88L639.6 872.88L640.1 872.95L640.6 872.90L641.1 872.74L641.6 872.58L642.1 872.37L642.6 872.36L643.1 872.35L643.6 872.46L644.1 872.43L644.6 872.38L645.1 872.31L645.6 872.32L646.1 872.36L646.6 872.46L647.1 872.55L647.6 872.52L648.1 872.30L648.6 871.97L649.1 871.70L649.6 871.45L650.1 871.25L650.6 870.84L651.1 870.33L651.6 869.54L652.1 868.63L652.6 867.12L653.1 864.13L653.6 857.90L654.1 846.74L654.6 829.39L655.1 806.30L655.6 780.53L656.1 758.85L656.6 749.20L657.1 753.90L657.6 766.42L658.1 778.92L658.6 788.24L659.1 796.48L659.6 807.35L660.1 821.51L660.6 836.17L661.1 848.93L661.6 858.18L662.1 864.11L662.6 867.33L663.1 869.01L663.6 869.89L664.1 870.37L664.6 870.69L665.1 870.88L665.6 871.28L666.1 871.63L666.6 871.98L667.1 872.03L667.6 872.04L668.1 872.11L668.6 872.22L669.1 872.18L669.6 872.10L670.1 872.10L670.6 872.43L671.1 872.62L671.6 872.80L672.1 872.73L672.6 872.68L673.1 872.54L673.6 872.41L674.1 872.38L674.6 872.33L675.1 872.38L675.6 872.36L676.1 872.43L676.6 872.45L677.1 872.69L677.6 872.85L678.1 873.04L678.6 873.02L679.1 873.06L679.6 873.07L680.1 873.14L680.6 873.21L681.1 873.28L681.6 873.31L682.1 873.30L682.6 873.27L683.1 873.20L683.6 873.16L684.1 873.11L684.6 873.14L685.1 873.04L685.6 873.04L686.1 873.01L686.6 873.17L687.1 873.14L687.6 873.08L688.1 872.91L688.6 872.91L689.1 872.97L689.6 873.02L690.1 872.85L690.6 872.69L691.1 872.72L691.6 872.95L692.1 873.14L692.6 873.08L693.1 872.95L693.6 872.90L694.1 873.01L694.6 873.07L695.1 872.97L695.6 872.78L696.1 872.64L696.6 872.63L697.1 872.71L697.6 872.73L698.1 872.77L698.6 872.86L699.1 873.06L699.6 873.26L700.1 873.31L700.6 873.23L701.1 873.14L701.6 873.16L702.1 873.29L702.6 873.16L703.1 873.05L703.6 872.91L704.1 873.04L704.6 873.03L705.1 872.96L705.6 872.92L706.1 873.01L706.6 873.12L707.1 873.09L707.6 873.00L708.1 872.99L708.6 873.07L709.1 873.22L709.6 873.20L710.1 873.07L710.6 872.90L711.1 872.81L711.6 872.87L712.1 872.90L712.6 873.02L713.1 872.95L713.6 872.93L714.1 872.79L714.6 872.88L715.1 872.88L715.6 872.91L716.1 872.81L716.6 872.84L717.1 872.89L717.6 872.88L718.1 872.83L718.6 872.76L719.1 872.83L719.6 872.82L720.1 872.93L720.6 873.06L721.1 873.28L721.6 873.21L722.1 872.90L722.6 872.39L723.1 871.88L723.6 871.25L724.1 870.28L724.6 868.40L725.1 865.10L725.6 860.20L726.1 854.65L726.6 850.40L727.1 849.56L727.6 852.10L728.1 855.60L728.6 858.10L729.1 858.99L729.6 859.32L730.1 860.31L730.6 862.56L731.1 865.15L731.6 867.40L732.1 868.64L732.6 869.09L733.1 868.85L733.6 868.23L734.1 867.09L734.6 865.52L735.1 863.53L735.6 861.28L736.1 858.84L736.6 856.31L737.1 853.86L737.6 851.71L738.1 850.12L738.6 849.22L739.1 849.01L739.6 849.39L740.1 850.14L740.6 851.47L741.1 853.25L741.6 855.44L742.1 857.69L742.6 859.91L743.1 861.96L743.6 863.85L744.1 865.55L744.6 866.95L745.1 868.22L745.6 869.22L746.1 870.28L746.6 871.14L747.1 871.82L747.6 872.13L748.1 872.16L748.6 872.22L749.1 872.21L749.6 872.29L750.1 872.28L750.6 872.41L751.1 872.64L751.6 872.80L752.1 872.77L752.6 872.62L753.1 872.53L753.6 872.60L754.1 872.71L754.6 872.91L755.1 873.05L755.6 873.16L756.1 873.20L756.6 873.21L757.1 873.16L757.6 873.02L758.1 872.95L758.6 872.92L759.1 872.94L759.6 872.92L760.1 872.98L760.6 873.10L761.1 873.18L761.6 873.25L762.1 873.21L762.6 873.11L763.1 872.91L763.6 872.83L764.1 872.82L764.6 872.78L765.1 872.71L765.6 872.64L766.1 872.76L766.6 872.77L767.1 872.82L767.6 872.83L768.1 873.06L768.6 873.30L769.1 873.36L769.6 873.23L770.1 873.08L770.6 873.00L771.1 872.99L771.6 872.96L772.1 872.97L772.6 872.97L773.1 873.02L773.6 873.03L774.1 873.03L774.6 873.04L775.1 873.12L775.6 873.19L776.1 873.23L776.6 873.19L777.1 873.14L777.6 873.08L778.1 873.08L778.6 873.08L779.1 873.01L779.6 872.91L780.1 872.80L780.6 872.80L781.1 872.83L781.6 872.93L782.1 872.99L782.6 873.00L783.1 873.00L783.6 873.00L784.1 873.05L784.6 873.11L785.1 873.16L785.6 873.23L786.1 873.27L786.6 873.38L787.1 873.45L787.6 873.43L788.1 873.29L788.6 873.04L789.1 872.96L789.6 872.85L790.1 872.89L790.6 872.76L791.1 872.76L791.6 872.78L792.1 872.94L792.6 873.13L793.1 873.27L793.6 873.38L794.1 873.40L794.6 873.36L795.1 873.25L795.6 873.22L796.1 873.18L796.6 873.17L797.1 873.02L797.6 872.94L798.1 872.87L798.6 872.89L799.1 872.81L799.6 872.80L800.1 872.68L800.6 872.66L801.1 872.66L801.6 872.80L802.1 872.95L802.6 872.98L803.1 873.05L803.6 873.15L804.1 873.32L804.6 873.40L805.1 873.35L805.6 873.37L806.1 873.34L806.6 873.29L807.1 873.13L807.6 873.04L808.1 873.00L808.6 873.02L809.1 872.95L809.6 872.89L810.1 872.73L810.6 872.75L811.1 872.88L811.6 873.12L812.1 873.31L812.6 873.37L813.1 873.30L813.6 873.15L814.1 873.01L814.6 873.09L815.1 873.28L815.6 873.43L816.1 873.46L816.6 873.24L817.1 873.14L817.6 872.91L818.1 873.03L818.6 873.06L819.1 873.24L819.6 873.19L820.1 873.19L820.6 873.27L821.1 873.45L821.6 873.52L822.1 873.44L822.6 873.17L823.1 872.99L823.6 872.93L824.1 873.10L824.6 873.22L825.1 873.07L825.6 872.88L826.1 872.75L826.6 872.85L827.1 872.92L827.6 872.96L828.1 872.95L828.6 872.92L829.1 872.98L829.6 873.13L830.1 873.28L830.6 873.32L831.1 873.23L831.6 873.00L832.1 872.73L832.6 872.50L833.1 872.54L833.6 872.72L834.1 872.96L834.6 872.95L835.1 872.96L835.6 872.95L836.1 873.07L836.6 873.09L837.1 873.05L837.6 873.08L838.1 873.28L838.6 873.46L839.1 873.55L839.6 873.43L840.1 873.38L840.6 873.33L841.1 873.33L841.6 873.26L842.1 873.17L842.6 873.02L843.1 872.93L843.6 872.86L844.1 872.88L844.6 872.90L845.1 872.86L845.6 872.84L846.1 872.77L846.6 872.80L847.1 872.78L847.6 872.83L848.1 872.89L848.6 872.90L849.1 872.87L849.6 872.91L850.1 872.96L850.6 873.00L851.1 872.92L851.6 872.95L852.1 872.96L852.6 872.91L853.1 872.73L853.6 872.63L854.1 872.57L854.6 872.55L855.1 872.49L855.6 872.62L856.1 872.88L856.6 873.29L857.1 873.61L857.6 873.68L858.1 873.52L858.6 873.10L859.1 872.91L859.6 872.75L860.1 872.61L860.6 872.14L861.1 871.45L861.6 870.65L862.1 869.73L862.6 868.38L863.1 866.59L863.6 864.33L864.1 862.28L864.6 860.51L865.1 859.53L865.6 859.21L866.1 859.66L866.6 860.47L867.1 861.79L867.6 863.20L868.1 864.79L868.6 866.32L869.1 867.72L869.6 868.97L870.1 869.99L870.6 870.90L871.1 871.40L871.6 871.67L872.1 871.72L872.6 871.87L873.1 872.05L873.6 872.27L874.1 872.44L874.6 872.45L875.1 872.38L875.6 872.18L876.1 872.20L876.6 872.21L877.1 872.19L877.6 871.98L878.1 871.75L878.6 871.72L879.1 871.65L879.6 871.59L880.1 871.37L880.6 871.13L881.1 870.90L881.6 870.54L882.1 870.03L882.6 868.67L883.1 866.06L883.6 860.90L884.1 852.49L884.6 840.15L885.1 824.98L885.6 809.83L886.1 799.83L886.6 799.36L887.1 807.37L887.6 818.03L888.1 826.21L888.6 829.86L889.1 830.27L889.6 830.83L890.1 834.61L890.6 841.78L891.1 850.11L891.6 857.61L892.1 862.94L892.6 866.21L893.1 867.88L893.6 868.74L894.1 869.13L894.6 869.15L895.1 868.87L895.6 868.24L896.1 866.84L896.6 863.88L897.1 857.76L897.6 847.07L898.1 830.68L898.6 809.73L899.1 787.88L899.6 771.95L900.1 768.63L900.6 778.38L901.1 793.74L901.6 806.88L902.1 813.55L902.6 814.67L903.1 814.51L903.6 818.31L904.1 827.24L904.6 838.91L905.1 849.94L905.6 858.57L906.1 864.22L906.6 867.64L907.1 869.58L907.6 870.75L908.1 871.26L908.6 871.47L909.1 871.43L909.6 871.52L910.1 871.66L910.6 871.86L911.1 871.87L911.6 871.82L912.1 871.77L912.6 871.89L913.1 871.99L913.6 872.04L914.1 871.98L914.6 871.98L915.1 872.10L915.6 872.27L916.1 872.43L916.6 872.47L917.1 872.50L917.6 872.53L918.1 872.69L918.6 872.70L919.1 872.66L919.6 872.49L920.1 872.57L920.6 872.67L921.1 872.86L921.6 872.91L922.1 872.97L922.6 872.91L923.1 872.82L923.6 872.66L924.1 872.70L924.6 872.75L925.1 872.91L925.6 872.89L926.1 873.11L926.6 873.26L927.1 873.45L927.6 873.36L928.1 873.15L928.6 872.89L929.1 872.71L929.6 872.66L930.1 872.65L930.6 872.73L931.1 872.79L931.6 872.86L932.1 872.85L932.6 872.83L933.1 872.82L933.6 872.78L934.1 872.74L934.6 872.75L935.1 872.76L935.6 872.55L936.1 872.08L936.6 871.24L937.1 870.34L937.6 869.05L938.1 867.57L938.6 865.58L939.1 863.61L939.6 861.66L940.1 860.04L940.6 858.80L941.1 858.14L941.6 857.80L942.1 857.68L942.6 857.68L943.1 857.87L943.6 858.15L944.1 858.60L944.6 858.94L945.1 859.39L945.6 859.85L946.1 860.51L946.6 861.22L947.1 862.04L947.6 862.79L948.1 863.71L948.6 864.55L949.1 865.40L949.6 865.94L950.1 866.40L950.6 866.91L951.1 867.50L951.6 868.09L952.1 868.57L952.6 869.12L953.1 869.66L953.6 870.17L954.1 870.41L954.6 870.72L955.1 871.01L955.6 871.40L956.1 871.55L956.6 871.74L957.1 871.96L957.6 872.20L958.1 872.32L958.6 872.31L959.1 872.42L959.6 872.63L960.1 872.85L960.6 872.85L961.1 872.76L961.6 872.77L962.1 872.82L962.6 872.83L963.1 872.74L963.6 872.67L964.1 872.68L964.6 872.52L965.1 872.51L965.6 872.45L966.1 872.61L966.6 872.60L967.1 872.63L967.6 872.60L968.1 872.70L968.6 872.83L969.1 873.03L969.6 873.16L970.1 873.18L970.6 873.10L971.1 873.09L971.6 873.07L972.1 873.12L972.6 872.99L973.1 872.95L973.6 872.89L974.1 873.04L974.6 873.14L975.1 873.19L975.6 873.13L976.1 873.13L976.6 873.11L977.1 873.03L977.6 872.79L978.1 872.70L978.6 872.72L979.1 872.95L979.6 873.13L980.1 873.28L980.6 873.34L981.1 873.33L981.6 873.27L982.1 873.03L982.6 872.85L983.1 872.80L983.6 873.02L984.1 873.19L984.6 873.24L985.1 873.11L985.6 873.01L986.1 872.95L986.6 872.97L987.1 872.96L987.6 872.98L988.1 872.91L988.6 872.83L989.1 872.73L989.6 872.80L990.1 872.90L990.6 873.01L991.1 872.97L991.6 873.02L992.1 872.98L992.6 873.05L993.1 873.00L993.6 873.17L994.1 873.20L994.6 873.37L995.1 873.35L995.6 873.24L996.1 873.01L996.6 872.83L997.1 872.92L997.6 873.06L998.1 873.13L998.6 873.03L999.1 872.92L999.6 872.89L1000.1 872.95L1000.6 873.00L1001.1 873.01L1001.6 873.01L1002.1 872.95L1002.6 872.95L1003.1 872.96L1003.6 873.07L1004.1 873.08L1004.6 873.02L1005.1 872.88L1005.6 872.79L1006.1 872.74L1006.6 872.69L1007.1 872.60L1007.6 872.41L1008.1 872.34L1008.6 872.24L1009.1 872.18L1009.6 871.95L1010.1 871.75L1010.6 871.63L1011.1 871.57L1011.6 871.47L1012.1 871.42L1012.6 871.48L1013.1 871.75L1013.6 871.88L1014.1 872.05L1014.6 872.08L1015.1 872.27L1015.6 872.23L1016.1 872.31L1016.6 872.34L1017.1 872.64L1017.6 872.88L1018.1 873.04L1018.6 872.98L1019.1 872.80L1019.6 872.73L1020.1 872.79L1020.6 872.86L1021.1 872.90L1021.6 872.89L1022.1 873.08L1022.6 873.11L1023.1 873.18L1023.6 872.99L1024.1 872.90L1024.6 872.77L1025.1 872.77L1025.6 872.92L1026.1 873.08L1026.6 873.34L1027.1 873.34L1027.6 873.29L1028.1 873.11L1028.6 873.10L1029.1 873.00L1029.6 872.90L1030.1 872.82L1030.6 872.94L1031.1 873.11L1031.6 873.26L1032.1 873.25L1032.6 873.30L1033.1 873.32L1033.6 873.35L1034.1 873.30L1034.6 873.11L1035.1 873.04L1035.6 872.98L1036.1 873.03L1036.6 873.11L1037.1 873.16L1037.6 873.24L1038.1 873.20L1038.6 873.09L1039.1 873.04L1039.6 872.96L1040.1 873.12L1040.6 873.18L1041.1 873.32L1041.6 873.22L1042.1 873.20L1042.6 873.05L1043.1 872.93L1043.6 872.71L1044.1 872.72L1044.6 872.88L1045.1 873.00L1045.6 872.94L1046.1 872.79L1046.6 872.84L1047.1 873.00L1047.6 873.09L1048.1 873.09L1048.6 872.96L1049.1 872.95L1049.6 872.93L1050.1 873.09L1050.6 873.22L1051.1 873.28L1051.6 873.29L1052.1 873.36L1052.6 873.47L1053.1 873.51L1053.6 873.48L1054.1 873.36L1054.6 873.16L1055.1 872.99L1055.6 872.97L1056.1 873.05L1056.6 872.96L1057.1 872.76L1057.6 872.66L1058.1 872.69L1058.6 872.79L1059.1 872.75L1059.6 872.87L1060.1 872.96L1060.6 873.14L1061.1 873.11L1061.6 873.06L1062.1 872.97L1062.6 872.94L1063.1 872.96L1063.6 872.97L1064.1 873.03L1064.6 873.08L1065.1 873.13L1065.6 873.07L1066.1 872.99L1066.6 873.02L1067.1 873.20L1067.6 873.38L1068.1 873.36L1068.6 873.20L1069.1 872.93L1069.6 872.77L1070.1 872.72L1070.6 872.81L1071.1 872.89L1071.6 872.91L1072.1 872.96L1072.6 873.05L1073.1 873.15L1073.6 873.14L1074.1 873.18L1074.6 873.27L1075.1 873.44L1075.6 873.40L1076.1 873.20L1076.6 872.95L1077.1 872.87L1077.6 873.00L1078.1 873.00L1078.6 872.99L1079.1 872.75L1079.6 872.60L1080.1 872.01L1080.6 870.92L1081.1 869.13L1081.6 866.88L1082.1 864.49L1082.6 862.41L1083.1 861.18L1083.6 861.14L1084.1 861.30L1084.6 861.74L1085.1 862.34L1085.6 863.40L1086.1 864.57L1086.6 865.71L1087.1 866.54L1087.6 867.33L1088.1 868.03L1088.6 868.81L1089.1 869.53L1089.6 870.21L1090.1 870.83L1090.6 871.29L1091.1 871.61L1091.6 871.85L1092.1 872.11L1092.6 872.33L1093.1 872.49L1093.6 872.53L1094.1 872.71L1094.6 872.75L1095.1 872.85L1095.6 872.75L1096.1 872.80L1096.6 872.71L1097.1 872.68L1097.6 872.47L1098.1 872.42L1098.6 872.18L1099.1 871.77L1099.6 870.78L1100.1 868.99L1100.6 865.97L1101.1 861.79L1101.6 857.40L1102.1 854.64L1102.6 855.07L1103.1 858.34L1103.6 862.34L1104.1 865.46L1104.6 866.74L1105.1 866.25L1105.6 864.70L1106.1 863.28L1106.6 863.33L1107.1 864.84L1107.6 867.22L1108.1 869.30L1108.6 871.02L1109.1 871.93L1109.6 872.43L1110.1 872.53L1110.6 872.60L1111.1 872.68L1111.6 872.69L1112.1 872.71L1112.6 872.76L1113.1 872.98L1113.6 873.19L1114.1 873.30L1114.6 873.23L1115.1 873.19L1115.6 873.10L1116.1 872.99L1116.6 872.84L1117.1 872.67L1117.6 872.65L1118.1 872.68L1118.6 872.80L1119.1 872.84L1119.6 872.95L1120.1 873.08L1120.6 873.20L1121.1 873.13L1121.6 872.97L1122.1 872.87L1122.6 872.89L1123.1 872.93L1123.6 872.97L1124.1 872.87L1124.6 872.93L1125.1 872.92L1125.6 873.06L1126.1 873.17L1126.6 873.29L1127.1 873.40L1127.6 873.35L1128.1 873.30L1128.6 873.10L1129.1 872.94L1129.6 872.77L1130.1 872.73L1130.6 872.84L1131.1 872.94L1131.6 873.04L1132.1 872.92L1132.6 872.85L1133.1 872.82L1133.6 873.02L1134.1 873.19L1134.6 873.26L1135.1 873.22L1135.6 873.18L1136.1 873.11L1136.6 872.95L1137.1 872.80L1137.6 872.71L1138.1 872.74L1138.6 872.82L1139.1 872.98L1139.6 873.07L1140.1 873.07L1140.6 872.92L1141.1 872.86L1141.6 872.86L1142.1 872.99L1142.6 872.93L1143.1 872.93L1143.6 872.80L1144.1 872.86L1144.6 872.76L1145.1 872.76L1145.6 872.78L1146.1 873.00L1146.6 873.23L1147.1 873.34L1147.6 873.17L1148.1 872.80L1148.6 872.41L1149.1 871.95L1149.6 871.25L1150.1 870.24L1150.6 869.22L1151.1 868.60L1151.6 868.39L1152.1 868.54L1152.6 868.64L1153.1 868.80L1153.6 868.98L1154.1 869.18L1154.6 869.54L1155.1 869.90L1155.6 870.21L1156.1 870.37L1156.6 870.56L1157.1 870.89L1157.6 871.21L1158.1 871.55L1158.6 871.82L1159.1 872.20L1159.6 872.36L1160.1 872.52L1160.6 872.57L1161.1 872.84L1161.6 872.98L1162.1 873.07L1162.6 873.00L1163.1 872.89L1163.6 872.76L1164.1 872.60L1164.6 872.64L1165.1 872.77L1165.6 872.98L1166.1 872.89L1166.6 872.71L1167.1 872.38L1167.6 872.09L1168.1 871.61L1168.6 870.88L1169.1 869.60L1169.6 867.94L1170.1 866.33L1170.6 865.75L1171.1 866.55L1171.6 868.14L1172.1 869.63L1172.6 870.46L1173.1 870.50L1173.6 870.13L1174.1 869.55L1174.6 869.24L1175.1 869.35L1175.6 870.03L1176.1 870.99L1176.6 871.92L1177.1 872.52L1177.6 872.79L1178.1 872.79L1178.6 872.84L1179.1 872.84L1179.6 872.89L1180.1 872.77L1180.6 872.66L1181.1 872.53L1181.6 872.61L1182.1 872.85L1182.6 873.10L1183.1 873.28L1183.6 873.28L1184.1 873.27L1184.6 873.16L1185.1 873.07L1185.6 873.00L1186.1 873.05L1186.6 873.07L1187.1 873.04L1187.6 872.88L1188.1 872.87L1188.6 872.94L1189.1 873.05L1189.6 872.99L1190.1 872.83L1190.6 872.74L1191.1 872.80L1191.6 872.98L1192.1 873.17L1192.6 873.22L1193.1 873.19L1193.6 873.19L1194.1 873.15L1194.6 873.20L1195.1 873.05L1195.6 872.98L1196.1 872.79L1196.6 872.84L1197.1 872.86L1197.6 872.97L1198.1 872.99L1198.6 873.08L1199.1 873.12L1199.6 873.16L1200.1 873.13L1200.6 873.16L1201.1 873.11L1201.6 873.13L1202.1 873.10L1202.6 873.13L1203.1 872.99L1203.6 872.87L1204.1 872.89L1204.6 873.02L1205.1 873.08L1205.6 872.94L1206.1 872.78L1206.6 872.72L1207.1 872.82L1207.6 873.00L1208.1 873.16L1208.6 873.26L1209.1 873.20L1209.6 873.07L1210.1 872.98L1210.6 872.96L1211.1 873.02L1211.6 873.09L1212.1 873.19L1212.6 873.38L1213.1 873.60L1213.6 873.73L1214.1 873.52L1214.6 873.15L1215.1 872.84L1215.6 872.78L1216.1 872.91L1216.6 872.98L1217.1 872.95L1217.6 872.86L1218.1 872.80L1218.6 872.91L1219.1 872.90L1219.6 872.97L1220.1 872.98L1220.6 873.13L1221.1 873.20L1221.6 873.18L1222.1 873.17L1222.6 873.10L1223.1 873.10L1223.6 873.02L1224.1 872.91L1224.6 872.78L1225.1 872.58L1225.6 872.48L1226.1 872.51L1226.6 872.63L1227.1 872.88L1227.6 872.96L1228.1 873.06L1228.6 873.01L1229.1 873.10L1229.6 873.17L1230.1 873.09L1230.6 872.92L1231.1 872.83L1231.6 872.96L1232.1 873.18L1232.6 873.34L1233.1 873.50L1233.6 873.56L1234.1 873.57L1234.6 873.43L1235.1 873.35L1235.6 873.22L1236.1 873.18L1236.6 873.09L1237.1 873.16L1237.6 873.21L1238.1 873.31L1238.6 873.20L1239.1 873.10L1239.6 873.01L1240.1 873.03L1240.6 872.96L1241.1 872.89L1241.6 872.84L1242.1 872.93L1242.6 873.03L1243.1 873.07L1243.6 873.04" fill="none" stroke="#000" stroke-width="2.4" stroke-linejoin="round" stroke-linecap="round"/>
<rect x="95.1" y="72.8" width="1148.9" height="160.2" fill="none" stroke="#000" stroke-width="3.2" stroke-linejoin="round"/>
<rect x="95.1" y="286.9" width="1148.9" height="160.2" fill="none" stroke="#000" stroke-width="3.2" stroke-linejoin="round"/>
<rect x="95.1" y="500.9" width="1148.9" height="160.0" fill="none" stroke="#000" stroke-width="3.2" stroke-linejoin="round"/>
<rect x="95.1" y="714.8" width="1148.9" height="160.4" fill="none" stroke="#000" stroke-width="3.2" stroke-linejoin="round"/>
<line x1="95.10" y1="875" x2="95.10" y2="890.5" stroke="#000" stroke-width="3.3" stroke-linecap="round"/>
<text x="95.30" y="928.1" font-size="35" text-anchor="middle">20</text>
<line x1="214.78" y1="875" x2="214.78" y2="890.5" stroke="#000" stroke-width="3.3" stroke-linecap="round"/>
<text x="214.98" y="928.1" font-size="35" text-anchor="middle">25</text>
<line x1="334.45" y1="875" x2="334.45" y2="890.5" stroke="#000" stroke-width="3.3" stroke-linecap="round"/>
<text x="334.65" y="928.1" font-size="35" text-anchor="middle">30</text>
<line x1="454.13" y1="875" x2="454.13" y2="890.5" stroke="#000" stroke-width="3.3" stroke-linecap="round"/>
<text x="454.33" y="928.1" font-size="35" text-anchor="middle">35</text>
<line x1="573.81" y1="875" x2="573.81" y2="890.5" stroke="#000" stroke-width="3.3" stroke-linecap="round"/>
<text x="574.01" y="928.1" font-size="35" text-anchor="middle">40</text>
<line x1="693.49" y1="875" x2="693.49" y2="890.5" stroke="#000" stroke-width="3.3" stroke-linecap="round"/>
<text x="693.69" y="928.1" font-size="35" text-anchor="middle">45</text>
<line x1="813.16" y1="875" x2="813.16" y2="890.5" stroke="#000" stroke-width="3.3" stroke-linecap="round"/>
<text x="813.36" y="928.1" font-size="35" text-anchor="middle">50</text>
<line x1="932.84" y1="875" x2="932.84" y2="890.5" stroke="#000" stroke-width="3.3" stroke-linecap="round"/>
<text x="933.04" y="928.1" font-size="35" text-anchor="middle">55</text>
<line x1="1052.52" y1="875" x2="1052.52" y2="890.5" stroke="#000" stroke-width="3.3" stroke-linecap="round"/>
<text x="1052.72" y="928.1" font-size="35" text-anchor="middle">60</text>
<line x1="1172.19" y1="875" x2="1172.19" y2="890.5" stroke="#000" stroke-width="3.3" stroke-linecap="round"/>
<text x="1172.39" y="928.1" font-size="35" text-anchor="middle">65</text>
<line x1="328.60" y1="73.2" x2="331.55" y2="871.0" stroke="#3f6fc6" stroke-width="2.2" stroke-dasharray="8.5 6.38"/>
<line x1="350.60" y1="73.2" x2="353.55" y2="871.0" stroke="#3f6fc6" stroke-width="2.2" stroke-dasharray="8.5 6.38"/>
<line x1="443.10" y1="73.2" x2="446.05" y2="871.0" stroke="#3f6fc6" stroke-width="2.2" stroke-dasharray="8.5 6.38"/>
<line x1="558.70" y1="73.2" x2="561.65" y2="871.0" stroke="#3f6fc6" stroke-width="2.2" stroke-dasharray="8.5 6.38"/>
<line x1="653.20" y1="73.2" x2="656.15" y2="871.0" stroke="#3f6fc6" stroke-width="2.2" stroke-dasharray="8.5 6.38"/>
<line x1="721.30" y1="73.2" x2="724.25" y2="871.0" stroke="#3f6fc6" stroke-width="2.2" stroke-dasharray="8.5 6.38"/>
<line x1="858.40" y1="73.2" x2="861.35" y2="871.0" stroke="#3f6fc6" stroke-width="2.2" stroke-dasharray="8.5 6.38"/>
<line x1="881.60" y1="73.2" x2="884.55" y2="871.0" stroke="#3f6fc6" stroke-width="2.2" stroke-dasharray="8.5 6.38"/>
<line x1="895.40" y1="71.7" x2="898.35" y2="871.0" stroke="#3f6fc6" stroke-width="2.2" stroke-dasharray="8.5 6.38"/>
<line x1="931.90" y1="75.6" x2="934.85" y2="871.0" stroke="#3f6fc6" stroke-width="2.2" stroke-dasharray="8.5 6.38"/>
<line x1="1073.90" y1="76.4" x2="1076.85" y2="871.0" stroke="#3f6fc6" stroke-width="2.2" stroke-dasharray="8.5 6.38"/>
<line x1="1098.30" y1="76.4" x2="1101.25" y2="871.0" stroke="#3f6fc6" stroke-width="2.2" stroke-dasharray="8.5 6.38"/>
<line x1="1143.10" y1="73.2" x2="1146.05" y2="871.0" stroke="#3f6fc6" stroke-width="2.2" stroke-dasharray="8.5 6.38"/>
<line x1="1167.50" y1="73.2" x2="1170.45" y2="871.0" stroke="#3f6fc6" stroke-width="2.2" stroke-dasharray="8.5 6.38"/>
<rect x="282.3" y="807.0" width="14.8" height="15.8" fill="#ef782c"/>
<rect x="390.8" y="828.3" width="14.8" height="15.8" fill="#ef782c"/>
<rect x="737.1" y="815.7" width="14.8" height="15.8" fill="#ef782c"/>
<rect x="942.3" y="823.0" width="14.8" height="15.8" fill="#ef782c"/>
<rect x="1003.9" y="830.4" width="14.8" height="15.8" fill="#ef782c"/>
<text x="321.1" y="55.1" font-size="25.6" text-anchor="middle"><tspan dx="-1.4">(</tspan><tspan dx="1.4">110</tspan><tspan dx="1.4">)</tspan></text>
<text x="385.1" y="55.1" font-size="25.6" text-anchor="middle"><tspan dx="-1.4">(</tspan><tspan dx="1.4">101</tspan><tspan dx="1.4">)</tspan></text>
<text x="446.3" y="55.1" font-size="25.6" text-anchor="middle"><tspan dx="-1.4">(</tspan><tspan dx="1.4">200</tspan><tspan dx="1.4">)</tspan></text>
<text x="562.1" y="55.1" font-size="25.6" text-anchor="middle"><tspan dx="-1.4">(</tspan><tspan dx="1.4">111</tspan><tspan dx="1.4">)</tspan></text>
<text x="651.8000000000001" y="55.1" font-size="25.6" text-anchor="middle"><tspan dx="-1.4">(</tspan><tspan dx="1.4">201</tspan><tspan dx="1.4">)</tspan></text>
<text x="723.4" y="55.1" font-size="25.6" text-anchor="middle"><tspan dx="-1.4">(</tspan><tspan dx="1.4">210</tspan><tspan dx="1.4">)</tspan></text>
<text x="843.8000000000001" y="57.1" font-size="25.6" text-anchor="middle"><tspan dx="-1.4">(</tspan><tspan dx="1.4">002</tspan><tspan dx="1.4">)</tspan></text>
<text x="948.3000000000001" y="57.1" font-size="25.6" text-anchor="middle"><tspan dx="-1.4">(</tspan><tspan dx="1.4">102</tspan><tspan dx="1.4">)</tspan></text>
<text x="863.5" y="24.8" font-size="25.6" text-anchor="middle"><tspan dx="-1.4">(</tspan><tspan dx="1.4">300</tspan><tspan dx="1.4">)</tspan></text>
<text x="926.7" y="25.3" font-size="25.6" text-anchor="middle"><tspan dx="-1.4">(</tspan><tspan dx="1.4">211</tspan><tspan dx="1.4">)</tspan></text>
<text x="1048.1" y="57.2" font-size="25.6" text-anchor="middle"><tspan dx="-1.4">(</tspan><tspan dx="1.4">112</tspan><tspan dx="1.4">)</tspan></text>
<text x="1171.6" y="57.2" font-size="25.6" text-anchor="middle"><tspan dx="-1.4">(</tspan><tspan dx="1.4">310</tspan><tspan dx="1.4">)</tspan></text>
<text x="1074.1999999999998" y="23.4" font-size="25.6" text-anchor="middle"><tspan dx="-1.4">(</tspan><tspan dx="1.4">220</tspan><tspan dx="1.4">)</tspan></text>
<text x="1137.5" y="26.4" font-size="25.6" text-anchor="middle"><tspan dx="-1.4">(</tspan><tspan dx="1.4">202</tspan><tspan dx="1.4">)</tspan></text>
<line x1="107.7" y1="94.5" x2="160.70000000000002" y2="94.5" stroke="#000" stroke-width="2.4" stroke-linecap="round"/>
<text x="168.0" y="103.0" font-size="24.3">Gd<tspan font-size="14.2" dy="-12.9">3+</tspan><tspan dy="12.9"> 30%</tspan></text>
<line x1="109.3" y1="314.9" x2="162.4" y2="314.9" stroke="#000" stroke-width="2.4" stroke-linecap="round"/>
<text x="169.4" y="322.9" font-size="24.2">Gd<tspan font-size="14.2" dy="-12.8">3+</tspan><tspan dy="12.8"> 50%</tspan></text>
<line x1="107.7" y1="530.9" x2="160.70000000000002" y2="530.9" stroke="#000" stroke-width="2.4" stroke-linecap="round"/>
<text x="167.7" y="538.8" font-size="24.0">Gd<tspan font-size="14.0" dy="-12.7">3+</tspan><tspan dy="12.7"> 70%</tspan></text>
<line x1="111.3" y1="741.7" x2="169.60000000000002" y2="741.7" stroke="#000" stroke-width="2.4" stroke-linecap="round"/>
<text x="184.9" y="750.4" font-size="26.0">No Gd<tspan font-size="15.2" dy="-13.8">3+</tspan></text>
<text x="669.4" y="990.3" font-size="41.3" text-anchor="middle">2 Theta (degree)</text>
<text transform="translate(34.0 462.7) rotate(-90)" font-size="41.3" text-anchor="middle">Intensity (a.u.)</text>
</svg>
</body></html>
